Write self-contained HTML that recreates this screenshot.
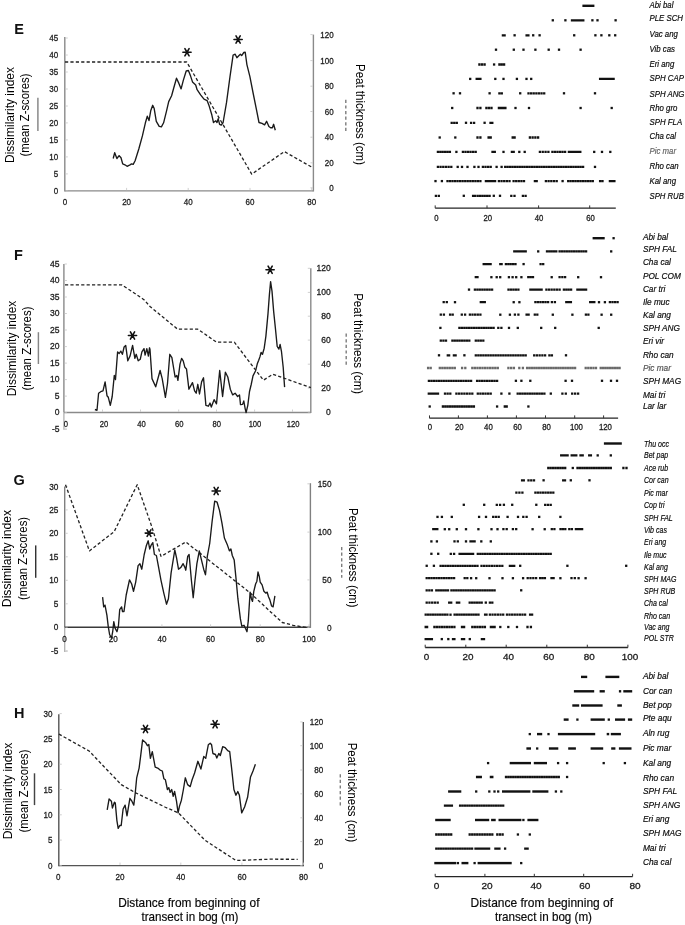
<!DOCTYPE html><html><head><meta charset="utf-8"><style>html,body{margin:0;padding:0;background:#fff;}svg{display:block;filter:blur(0.35px);}text{font-family:"Liberation Sans", sans-serif;}</style></head><body>
<svg width="685" height="925" viewBox="0 0 685 925">
<rect width="685" height="925" fill="#fff"/>
<line x1="64.8" y1="37.1" x2="64.8" y2="191.5" stroke="#8a8a8a" stroke-width="1.4"/>
<line x1="64.8" y1="190.9" x2="313.4" y2="190.9" stroke="#8a8a8a" stroke-width="1.4"/>
<line x1="313.4" y1="34.6" x2="313.4" y2="191.5" stroke="#8a8a8a" stroke-width="1.4"/>
<line x1="65.5" y1="190.9" x2="67.8" y2="190.9" stroke="#c4c4c4" stroke-width="0.8"/>
<text x="58.2" y="194.0" font-size="9.6" text-anchor="end" stroke="#1c1c1c" stroke-width="0.3" fill="#1c1c1c" textLength="4.45" lengthAdjust="spacingAndGlyphs">0</text>
<line x1="65.5" y1="173.9" x2="67.8" y2="173.9" stroke="#c4c4c4" stroke-width="0.8"/>
<text x="58.2" y="177.0" font-size="9.6" text-anchor="end" stroke="#1c1c1c" stroke-width="0.3" fill="#1c1c1c" textLength="4.45" lengthAdjust="spacingAndGlyphs">5</text>
<line x1="65.5" y1="156.9" x2="67.8" y2="156.9" stroke="#c4c4c4" stroke-width="0.8"/>
<text x="58.2" y="160.0" font-size="9.6" text-anchor="end" stroke="#1c1c1c" stroke-width="0.3" fill="#1c1c1c" textLength="8.9" lengthAdjust="spacingAndGlyphs">10</text>
<line x1="65.5" y1="139.9" x2="67.8" y2="139.9" stroke="#c4c4c4" stroke-width="0.8"/>
<text x="58.2" y="143.0" font-size="9.6" text-anchor="end" stroke="#1c1c1c" stroke-width="0.3" fill="#1c1c1c" textLength="8.9" lengthAdjust="spacingAndGlyphs">15</text>
<line x1="65.5" y1="122.9" x2="67.8" y2="122.9" stroke="#c4c4c4" stroke-width="0.8"/>
<text x="58.2" y="126.0" font-size="9.6" text-anchor="end" stroke="#1c1c1c" stroke-width="0.3" fill="#1c1c1c" textLength="8.9" lengthAdjust="spacingAndGlyphs">20</text>
<line x1="65.5" y1="106.0" x2="67.8" y2="106.0" stroke="#c4c4c4" stroke-width="0.8"/>
<text x="58.2" y="109.1" font-size="9.6" text-anchor="end" stroke="#1c1c1c" stroke-width="0.3" fill="#1c1c1c" textLength="8.9" lengthAdjust="spacingAndGlyphs">25</text>
<line x1="65.5" y1="89.0" x2="67.8" y2="89.0" stroke="#c4c4c4" stroke-width="0.8"/>
<text x="58.2" y="92.1" font-size="9.6" text-anchor="end" stroke="#1c1c1c" stroke-width="0.3" fill="#1c1c1c" textLength="8.9" lengthAdjust="spacingAndGlyphs">30</text>
<line x1="65.5" y1="72.0" x2="67.8" y2="72.0" stroke="#c4c4c4" stroke-width="0.8"/>
<text x="58.2" y="75.1" font-size="9.6" text-anchor="end" stroke="#1c1c1c" stroke-width="0.3" fill="#1c1c1c" textLength="8.9" lengthAdjust="spacingAndGlyphs">35</text>
<line x1="65.5" y1="55.0" x2="67.8" y2="55.0" stroke="#c4c4c4" stroke-width="0.8"/>
<text x="58.2" y="58.1" font-size="9.6" text-anchor="end" stroke="#1c1c1c" stroke-width="0.3" fill="#1c1c1c" textLength="8.9" lengthAdjust="spacingAndGlyphs">40</text>
<line x1="65.5" y1="38.0" x2="67.8" y2="38.0" stroke="#c4c4c4" stroke-width="0.8"/>
<text x="58.2" y="41.1" font-size="9.6" text-anchor="end" stroke="#1c1c1c" stroke-width="0.3" fill="#1c1c1c" textLength="8.9" lengthAdjust="spacingAndGlyphs">45</text>
<line x1="310.4" y1="34.6" x2="312.7" y2="34.6" stroke="#c4c4c4" stroke-width="0.8"/>
<text x="333.6" y="37.7" font-size="9.6" text-anchor="end" stroke="#1c1c1c" stroke-width="0.3" fill="#1c1c1c" textLength="13.35" lengthAdjust="spacingAndGlyphs">120</text>
<line x1="310.4" y1="60.6" x2="312.7" y2="60.6" stroke="#c4c4c4" stroke-width="0.8"/>
<text x="333.6" y="63.7" font-size="9.6" text-anchor="end" stroke="#1c1c1c" stroke-width="0.3" fill="#1c1c1c" textLength="13.35" lengthAdjust="spacingAndGlyphs">100</text>
<line x1="310.4" y1="86.2" x2="312.7" y2="86.2" stroke="#c4c4c4" stroke-width="0.8"/>
<text x="333.6" y="89.3" font-size="9.6" text-anchor="end" stroke="#1c1c1c" stroke-width="0.3" fill="#1c1c1c" textLength="8.9" lengthAdjust="spacingAndGlyphs">80</text>
<line x1="310.4" y1="111.5" x2="312.7" y2="111.5" stroke="#c4c4c4" stroke-width="0.8"/>
<text x="333.6" y="114.6" font-size="9.6" text-anchor="end" stroke="#1c1c1c" stroke-width="0.3" fill="#1c1c1c" textLength="8.9" lengthAdjust="spacingAndGlyphs">60</text>
<line x1="310.4" y1="137.2" x2="312.7" y2="137.2" stroke="#c4c4c4" stroke-width="0.8"/>
<text x="333.6" y="140.3" font-size="9.6" text-anchor="end" stroke="#1c1c1c" stroke-width="0.3" fill="#1c1c1c" textLength="8.9" lengthAdjust="spacingAndGlyphs">40</text>
<line x1="310.4" y1="162.8" x2="312.7" y2="162.8" stroke="#c4c4c4" stroke-width="0.8"/>
<text x="333.6" y="165.9" font-size="9.6" text-anchor="end" stroke="#1c1c1c" stroke-width="0.3" fill="#1c1c1c" textLength="8.9" lengthAdjust="spacingAndGlyphs">20</text>
<line x1="310.4" y1="187.8" x2="312.7" y2="187.8" stroke="#c4c4c4" stroke-width="0.8"/>
<text x="333.6" y="190.9" font-size="9.6" text-anchor="end" stroke="#1c1c1c" stroke-width="0.3" fill="#1c1c1c" textLength="4.45" lengthAdjust="spacingAndGlyphs">0</text>
<text x="65.0" y="205.1" font-size="9.6" text-anchor="middle" stroke="#1c1c1c" stroke-width="0.3" fill="#1c1c1c" textLength="4.45" lengthAdjust="spacingAndGlyphs">0</text>
<text x="126.6" y="205.1" font-size="9.6" text-anchor="middle" stroke="#1c1c1c" stroke-width="0.3" fill="#1c1c1c" textLength="8.9" lengthAdjust="spacingAndGlyphs">20</text>
<text x="188.2" y="205.1" font-size="9.6" text-anchor="middle" stroke="#1c1c1c" stroke-width="0.3" fill="#1c1c1c" textLength="8.9" lengthAdjust="spacingAndGlyphs">40</text>
<text x="250.0" y="205.1" font-size="9.6" text-anchor="middle" stroke="#1c1c1c" stroke-width="0.3" fill="#1c1c1c" textLength="8.9" lengthAdjust="spacingAndGlyphs">60</text>
<text x="311.7" y="205.1" font-size="9.6" text-anchor="middle" stroke="#1c1c1c" stroke-width="0.3" fill="#1c1c1c" textLength="8.9" lengthAdjust="spacingAndGlyphs">80</text>
<line x1="126.6" y1="187.9" x2="126.6" y2="190.2" stroke="#c4c4c4" stroke-width="0.8"/>
<line x1="188.2" y1="187.9" x2="188.2" y2="190.2" stroke="#c4c4c4" stroke-width="0.8"/>
<line x1="250.0" y1="187.9" x2="250.0" y2="190.2" stroke="#c4c4c4" stroke-width="0.8"/>
<line x1="311.7" y1="187.9" x2="311.7" y2="190.2" stroke="#c4c4c4" stroke-width="0.8"/>
<text x="14.2" y="34.0" font-size="14.5" text-anchor="start" font-weight="bold" fill="#111">E</text>
<text x="13.9" y="115.0" font-size="12" text-anchor="middle" textLength="96" lengthAdjust="spacingAndGlyphs" transform="rotate(-90 13.9 115.0)">Dissimilarity index</text>
<text x="29.0" y="115.0" font-size="12" text-anchor="middle" textLength="83" lengthAdjust="spacingAndGlyphs" transform="rotate(-90 29.0 115.0)">(mean Z-scores)</text>
<line x1="37.9" y1="97.8" x2="37.9" y2="130.9" stroke="#858585" stroke-width="1.45"/>
<text x="355.5" y="114.5" font-size="12" text-anchor="middle" textLength="101" lengthAdjust="spacingAndGlyphs" transform="rotate(90 355.5 114.5)">Peat thickness (cm)</text>
<line x1="345.8" y1="99.8" x2="345.8" y2="130.9" stroke="#7c7c7c" stroke-width="1.4" stroke-dasharray="3.2,2.4"/>
<polyline points="65.0,62.0 186.7,62.0 251.7,174.1 284.4,151.6 311.2,166.8" fill="none" stroke="#222" stroke-width="1.3" stroke-linejoin="round" stroke-dasharray="3.2,2.2"/>
<polyline points="113.2,158.5 114.7,152.7 116.9,158.5 119.1,155.6 121.0,157.8 122.7,163.9 124.9,164.8 127.1,166.3 130.0,164.8 131.5,163.9 133.2,164.4 135.1,160.7 138.8,149.0 142.4,135.9 145.4,122.8 147.3,116.2 149.0,120.6 150.8,110.4 152.7,105.3 154.1,108.2 156.3,121.3 159.2,126.4 161.4,126.9 163.6,122.8 166.5,111.1 168.7,101.6 171.6,95.8 173.8,87.7 176.5,78.2 178.9,83.4 181.1,88.9 183.3,80.4 186.2,71.0 188.4,70.5 190.6,76.1 192.5,81.9 195.7,85.0 197.1,89.7 200.6,94.9 204.0,99.2 207.1,100.6 209.2,106.1 211.8,114.8 213.5,122.5 215.8,120.8 217.0,122.5 218.2,118.6 219.6,124.3 221.3,125.1 223.1,122.5 226.5,102.7 230.0,76.7 233.1,55.1 235.2,54.2 236.9,57.7 239.0,55.6 240.4,54.2 241.7,55.6 243.8,52.5 245.2,52.1 246.9,64.6 249.9,76.7 253.3,94.0 256.8,111.3 259.0,122.5 262.0,123.4 264.6,124.8 266.6,121.3 268.9,126.5 270.6,127.7 272.4,127.7 273.6,124.3 275.3,130.3" fill="none" stroke="#1a1a1a" stroke-width="1.35" stroke-linejoin="round"/>
<path d="M182.9,52.3L191.1,52.3M184.9,48.7L189.1,55.9M184.9,55.9L189.1,48.7" stroke="#111" stroke-width="1.6" stroke-linecap="round" fill="none"/>
<path d="M234.0,39.5L242.2,39.5M236.0,35.9L240.2,43.1M236.0,43.1L240.2,35.9" stroke="#111" stroke-width="1.6" stroke-linecap="round" fill="none"/>
<line x1="63.9" y1="264.0" x2="63.9" y2="412.5" stroke="#8a8a8a" stroke-width="1.4"/>
<line x1="63.9" y1="412.5" x2="63.9" y2="429.7" stroke="#b0b0b0" stroke-width="1.3"/>
<line x1="63.9" y1="429.1" x2="66.9" y2="429.1" stroke="#c4c4c4" stroke-width="0.8"/>
<line x1="63.9" y1="412.5" x2="310.8" y2="412.5" stroke="#8a8a8a" stroke-width="1.4"/>
<line x1="310.8" y1="268.3" x2="310.8" y2="413.1" stroke="#8a8a8a" stroke-width="1.4"/>
<line x1="64.6" y1="429.1" x2="66.9" y2="429.1" stroke="#c4c4c4" stroke-width="0.8"/>
<text x="59.6" y="431.7" font-size="9.6" text-anchor="end" stroke="#1c1c1c" stroke-width="0.3" fill="#1c1c1c" textLength="7.6" lengthAdjust="spacingAndGlyphs">-5</text>
<line x1="64.6" y1="412.6" x2="66.9" y2="412.6" stroke="#c4c4c4" stroke-width="0.8"/>
<text x="59.6" y="415.2" font-size="9.6" text-anchor="end" stroke="#1c1c1c" stroke-width="0.3" fill="#1c1c1c" textLength="4.75" lengthAdjust="spacingAndGlyphs">0</text>
<line x1="64.6" y1="396.1" x2="66.9" y2="396.1" stroke="#c4c4c4" stroke-width="0.8"/>
<text x="59.6" y="398.7" font-size="9.6" text-anchor="end" stroke="#1c1c1c" stroke-width="0.3" fill="#1c1c1c" textLength="4.75" lengthAdjust="spacingAndGlyphs">5</text>
<line x1="64.6" y1="379.6" x2="66.9" y2="379.6" stroke="#c4c4c4" stroke-width="0.8"/>
<text x="59.6" y="382.2" font-size="9.6" text-anchor="end" stroke="#1c1c1c" stroke-width="0.3" fill="#1c1c1c" textLength="9.5" lengthAdjust="spacingAndGlyphs">10</text>
<line x1="64.6" y1="363.1" x2="66.9" y2="363.1" stroke="#c4c4c4" stroke-width="0.8"/>
<text x="59.6" y="365.7" font-size="9.6" text-anchor="end" stroke="#1c1c1c" stroke-width="0.3" fill="#1c1c1c" textLength="9.5" lengthAdjust="spacingAndGlyphs">15</text>
<line x1="64.6" y1="346.6" x2="66.9" y2="346.6" stroke="#c4c4c4" stroke-width="0.8"/>
<text x="59.6" y="349.2" font-size="9.6" text-anchor="end" stroke="#1c1c1c" stroke-width="0.3" fill="#1c1c1c" textLength="9.5" lengthAdjust="spacingAndGlyphs">20</text>
<line x1="64.6" y1="330.0" x2="66.9" y2="330.0" stroke="#c4c4c4" stroke-width="0.8"/>
<text x="59.6" y="332.6" font-size="9.6" text-anchor="end" stroke="#1c1c1c" stroke-width="0.3" fill="#1c1c1c" textLength="9.5" lengthAdjust="spacingAndGlyphs">25</text>
<line x1="64.6" y1="313.5" x2="66.9" y2="313.5" stroke="#c4c4c4" stroke-width="0.8"/>
<text x="59.6" y="316.1" font-size="9.6" text-anchor="end" stroke="#1c1c1c" stroke-width="0.3" fill="#1c1c1c" textLength="9.5" lengthAdjust="spacingAndGlyphs">30</text>
<line x1="64.6" y1="297.0" x2="66.9" y2="297.0" stroke="#c4c4c4" stroke-width="0.8"/>
<text x="59.6" y="299.6" font-size="9.6" text-anchor="end" stroke="#1c1c1c" stroke-width="0.3" fill="#1c1c1c" textLength="9.5" lengthAdjust="spacingAndGlyphs">35</text>
<line x1="64.6" y1="280.5" x2="66.9" y2="280.5" stroke="#c4c4c4" stroke-width="0.8"/>
<text x="59.6" y="283.1" font-size="9.6" text-anchor="end" stroke="#1c1c1c" stroke-width="0.3" fill="#1c1c1c" textLength="9.5" lengthAdjust="spacingAndGlyphs">40</text>
<line x1="64.6" y1="264.0" x2="66.9" y2="264.0" stroke="#c4c4c4" stroke-width="0.8"/>
<text x="59.6" y="266.6" font-size="9.6" text-anchor="end" stroke="#1c1c1c" stroke-width="0.3" fill="#1c1c1c" textLength="9.5" lengthAdjust="spacingAndGlyphs">45</text>
<line x1="307.8" y1="268.3" x2="310.1" y2="268.3" stroke="#c4c4c4" stroke-width="0.8"/>
<text x="330.8" y="270.9" font-size="9.6" text-anchor="end" stroke="#1c1c1c" stroke-width="0.3" fill="#1c1c1c" textLength="14.25" lengthAdjust="spacingAndGlyphs">120</text>
<line x1="307.8" y1="292.4" x2="310.1" y2="292.4" stroke="#c4c4c4" stroke-width="0.8"/>
<text x="330.8" y="295.0" font-size="9.6" text-anchor="end" stroke="#1c1c1c" stroke-width="0.3" fill="#1c1c1c" textLength="14.25" lengthAdjust="spacingAndGlyphs">100</text>
<line x1="307.8" y1="316.2" x2="310.1" y2="316.2" stroke="#c4c4c4" stroke-width="0.8"/>
<text x="330.8" y="318.8" font-size="9.6" text-anchor="end" stroke="#1c1c1c" stroke-width="0.3" fill="#1c1c1c" textLength="9.5" lengthAdjust="spacingAndGlyphs">80</text>
<line x1="307.8" y1="340.1" x2="310.1" y2="340.1" stroke="#c4c4c4" stroke-width="0.8"/>
<text x="330.8" y="342.7" font-size="9.6" text-anchor="end" stroke="#1c1c1c" stroke-width="0.3" fill="#1c1c1c" textLength="9.5" lengthAdjust="spacingAndGlyphs">60</text>
<line x1="307.8" y1="364.2" x2="310.1" y2="364.2" stroke="#c4c4c4" stroke-width="0.8"/>
<text x="330.8" y="366.8" font-size="9.6" text-anchor="end" stroke="#1c1c1c" stroke-width="0.3" fill="#1c1c1c" textLength="9.5" lengthAdjust="spacingAndGlyphs">40</text>
<line x1="307.8" y1="388.1" x2="310.1" y2="388.1" stroke="#c4c4c4" stroke-width="0.8"/>
<text x="330.8" y="390.7" font-size="9.6" text-anchor="end" stroke="#1c1c1c" stroke-width="0.3" fill="#1c1c1c" textLength="9.5" lengthAdjust="spacingAndGlyphs">20</text>
<line x1="307.8" y1="412.2" x2="310.1" y2="412.2" stroke="#c4c4c4" stroke-width="0.8"/>
<text x="330.8" y="414.8" font-size="9.6" text-anchor="end" stroke="#1c1c1c" stroke-width="0.3" fill="#1c1c1c" textLength="4.75" lengthAdjust="spacingAndGlyphs">0</text>
<text x="65.8" y="426.9" font-size="9.6" text-anchor="middle" stroke="#1c1c1c" stroke-width="0.3" fill="#1c1c1c" textLength="4.25" lengthAdjust="spacingAndGlyphs">0</text>
<text x="104.0" y="426.9" font-size="9.6" text-anchor="middle" stroke="#1c1c1c" stroke-width="0.3" fill="#1c1c1c" textLength="8.5" lengthAdjust="spacingAndGlyphs">20</text>
<text x="141.4" y="426.9" font-size="9.6" text-anchor="middle" stroke="#1c1c1c" stroke-width="0.3" fill="#1c1c1c" textLength="8.5" lengthAdjust="spacingAndGlyphs">40</text>
<text x="179.3" y="426.9" font-size="9.6" text-anchor="middle" stroke="#1c1c1c" stroke-width="0.3" fill="#1c1c1c" textLength="8.5" lengthAdjust="spacingAndGlyphs">60</text>
<text x="216.7" y="426.9" font-size="9.6" text-anchor="middle" stroke="#1c1c1c" stroke-width="0.3" fill="#1c1c1c" textLength="8.5" lengthAdjust="spacingAndGlyphs">80</text>
<text x="255.0" y="426.9" font-size="9.6" text-anchor="middle" stroke="#1c1c1c" stroke-width="0.3" fill="#1c1c1c" textLength="12.75" lengthAdjust="spacingAndGlyphs">100</text>
<text x="293.2" y="426.9" font-size="9.6" text-anchor="middle" stroke="#1c1c1c" stroke-width="0.3" fill="#1c1c1c" textLength="12.75" lengthAdjust="spacingAndGlyphs">120</text>
<line x1="102.5" y1="409.5" x2="102.5" y2="411.8" stroke="#c4c4c4" stroke-width="0.8"/>
<line x1="140.5" y1="409.5" x2="140.5" y2="411.8" stroke="#c4c4c4" stroke-width="0.8"/>
<line x1="178.7" y1="409.5" x2="178.7" y2="411.8" stroke="#c4c4c4" stroke-width="0.8"/>
<line x1="216.5" y1="409.5" x2="216.5" y2="411.8" stroke="#c4c4c4" stroke-width="0.8"/>
<line x1="254.6" y1="409.5" x2="254.6" y2="411.8" stroke="#c4c4c4" stroke-width="0.8"/>
<line x1="292.5" y1="409.5" x2="292.5" y2="411.8" stroke="#c4c4c4" stroke-width="0.8"/>
<text x="13.9" y="259.5" font-size="14.5" text-anchor="start" font-weight="bold" fill="#111">F</text>
<text x="16.0" y="348.5" font-size="12" text-anchor="middle" textLength="95.5" lengthAdjust="spacingAndGlyphs" transform="rotate(-90 16.0 348.5)">Dissimilarity index</text>
<text x="31.0" y="348.5" font-size="12" text-anchor="middle" textLength="84" lengthAdjust="spacingAndGlyphs" transform="rotate(-90 31.0 348.5)">(mean Z-scores)</text>
<line x1="38.4" y1="332.2" x2="38.4" y2="364.0" stroke="#858585" stroke-width="1.45"/>
<text x="353.6" y="343.7" font-size="12" text-anchor="middle" textLength="101" lengthAdjust="spacingAndGlyphs" transform="rotate(90 353.6 343.7)">Peat thickness (cm)</text>
<line x1="346.2" y1="333.6" x2="346.2" y2="365.1" stroke="#7c7c7c" stroke-width="1.4" stroke-dasharray="3.2,2.4"/>
<polyline points="65.0,284.8 121.6,284.8 136.2,294.3 144.3,300.0 150.0,306.5 177.6,329.2 197.8,329.2 216.5,342.2 234.3,342.2 263.4,380.2 272.9,374.2 285.0,378.5 310.9,387.7" fill="none" stroke="#222" stroke-width="1.3" stroke-linejoin="round" stroke-dasharray="3.2,2.2"/>
<polyline points="94.9,409.5 97.0,410.3 98.6,393.2 101.4,391.3 103.0,390.8 105.1,381.9 107.0,395.7 108.3,397.3 110.3,405.4 112.2,396.5 114.3,375.4 115.5,379.5 117.6,351.9 119.2,353.5 120.8,351.1 122.4,354.3 124.1,347.0 125.7,345.4 127.8,360.8 130.1,355.9 132.6,345.4 134.9,358.4 136.2,354.3 138.2,360.8 140.3,359.2 141.9,351.9 144.0,348.6 145.1,355.1 146.8,348.6 148.4,356.0 149.5,347.8 150.0,349.5 152.0,378.6 155.7,386.8 160.1,370.5 162.2,378.6 165.4,397.3 167.5,383.5 169.8,354.3 171.9,357.6 175.1,377.0 176.8,375.4 177.9,380.3 180.0,364.1 181.6,358.4 183.2,360.8 184.9,367.3 186.5,368.9 188.9,389.2 192.5,382.7 194.6,390.8 196.2,393.2 197.8,384.3 199.5,394.0 201.6,381.9 203.5,377.8 205.9,405.4 208.4,406.2 210.0,403.0 211.3,407.0 214.1,399.7 216.5,403.8 219.7,370.5 222.6,396.5 225.4,372.2 227.8,377.0 230.3,389.2 232.7,394.9 235.1,393.2 237.6,396.5 239.5,394.9 240.5,404.6 242.6,404.4 243.8,401.0 245.2,408.8 246.1,412.6 247.8,405.3 249.5,391.5 251.2,384.5 253.0,375.9 255.6,370.7 257.3,363.8 258.7,360.3 259.9,356.9 261.1,352.5 262.5,354.3 264.2,348.2 265.9,336.1 268.0,313.6 269.4,294.6 270.6,281.6 272.0,291.1 273.7,311.9 275.5,329.2 277.2,346.5 278.9,349.1 280.1,344.4 281.5,351.7 283.2,367.2 284.6,387.1" fill="none" stroke="#1a1a1a" stroke-width="1.35" stroke-linejoin="round"/>
<path d="M128.4,335.5L136.6,335.5M130.4,331.9L134.6,339.1M130.4,339.1L134.6,331.9" stroke="#111" stroke-width="1.6" stroke-linecap="round" fill="none"/>
<path d="M266.0,269.8L274.2,269.8M268.1,266.2L272.2,273.4M268.1,273.4L272.2,266.2" stroke="#111" stroke-width="1.6" stroke-linecap="round" fill="none"/>
<line x1="64.7" y1="486.6" x2="64.7" y2="627.3" stroke="#808080" stroke-width="1.4"/>
<line x1="64.7" y1="627.3" x2="64.7" y2="652.0" stroke="#b0b0b0" stroke-width="1.3"/>
<line x1="64.7" y1="651.4" x2="67.7" y2="651.4" stroke="#c4c4c4" stroke-width="0.8"/>
<line x1="64.7" y1="627.3" x2="310.4" y2="627.3" stroke="#3a3a3a" stroke-width="1.4"/>
<line x1="310.4" y1="483.2" x2="310.4" y2="627.9" stroke="#808080" stroke-width="1.4"/>
<line x1="65.4" y1="650.7" x2="67.7" y2="650.7" stroke="#c4c4c4" stroke-width="0.8"/>
<text x="58.4" y="653.8" font-size="9.6" text-anchor="end" stroke="#1c1c1c" stroke-width="0.3" fill="#1c1c1c" textLength="7.36" lengthAdjust="spacingAndGlyphs">-5</text>
<line x1="65.4" y1="627.2" x2="67.7" y2="627.2" stroke="#c4c4c4" stroke-width="0.8"/>
<text x="58.4" y="630.3" font-size="9.6" text-anchor="end" stroke="#1c1c1c" stroke-width="0.3" fill="#1c1c1c" textLength="4.6" lengthAdjust="spacingAndGlyphs">0</text>
<line x1="65.4" y1="603.8" x2="67.7" y2="603.8" stroke="#c4c4c4" stroke-width="0.8"/>
<text x="58.4" y="606.9" font-size="9.6" text-anchor="end" stroke="#1c1c1c" stroke-width="0.3" fill="#1c1c1c" textLength="4.6" lengthAdjust="spacingAndGlyphs">5</text>
<line x1="65.4" y1="580.3" x2="67.7" y2="580.3" stroke="#c4c4c4" stroke-width="0.8"/>
<text x="58.4" y="583.4" font-size="9.6" text-anchor="end" stroke="#1c1c1c" stroke-width="0.3" fill="#1c1c1c" textLength="9.2" lengthAdjust="spacingAndGlyphs">10</text>
<line x1="65.4" y1="556.8" x2="67.7" y2="556.8" stroke="#c4c4c4" stroke-width="0.8"/>
<text x="58.4" y="559.9" font-size="9.6" text-anchor="end" stroke="#1c1c1c" stroke-width="0.3" fill="#1c1c1c" textLength="9.2" lengthAdjust="spacingAndGlyphs">15</text>
<line x1="65.4" y1="533.3" x2="67.7" y2="533.3" stroke="#c4c4c4" stroke-width="0.8"/>
<text x="58.4" y="536.4" font-size="9.6" text-anchor="end" stroke="#1c1c1c" stroke-width="0.3" fill="#1c1c1c" textLength="9.2" lengthAdjust="spacingAndGlyphs">20</text>
<line x1="65.4" y1="509.9" x2="67.7" y2="509.9" stroke="#c4c4c4" stroke-width="0.8"/>
<text x="58.4" y="513.0" font-size="9.6" text-anchor="end" stroke="#1c1c1c" stroke-width="0.3" fill="#1c1c1c" textLength="9.2" lengthAdjust="spacingAndGlyphs">25</text>
<line x1="65.4" y1="486.4" x2="67.7" y2="486.4" stroke="#c4c4c4" stroke-width="0.8"/>
<text x="58.4" y="489.5" font-size="9.6" text-anchor="end" stroke="#1c1c1c" stroke-width="0.3" fill="#1c1c1c" textLength="9.2" lengthAdjust="spacingAndGlyphs">30</text>
<line x1="307.4" y1="483.8" x2="309.7" y2="483.8" stroke="#c4c4c4" stroke-width="0.8"/>
<text x="331.5" y="486.9" font-size="9.6" text-anchor="end" stroke="#1c1c1c" stroke-width="0.3" fill="#1c1c1c" textLength="13.8" lengthAdjust="spacingAndGlyphs">150</text>
<line x1="307.4" y1="532.1" x2="309.7" y2="532.1" stroke="#c4c4c4" stroke-width="0.8"/>
<text x="331.5" y="535.2" font-size="9.6" text-anchor="end" stroke="#1c1c1c" stroke-width="0.3" fill="#1c1c1c" textLength="13.8" lengthAdjust="spacingAndGlyphs">100</text>
<line x1="307.4" y1="579.9" x2="309.7" y2="579.9" stroke="#c4c4c4" stroke-width="0.8"/>
<text x="331.5" y="583.0" font-size="9.6" text-anchor="end" stroke="#1c1c1c" stroke-width="0.3" fill="#1c1c1c" textLength="9.2" lengthAdjust="spacingAndGlyphs">50</text>
<line x1="307.4" y1="627.5" x2="309.7" y2="627.5" stroke="#c4c4c4" stroke-width="0.8"/>
<text x="331.5" y="630.6" font-size="9.6" text-anchor="end" stroke="#1c1c1c" stroke-width="0.3" fill="#1c1c1c" textLength="4.6" lengthAdjust="spacingAndGlyphs">0</text>
<text x="64.6" y="641.6" font-size="9.6" text-anchor="middle" stroke="#1c1c1c" stroke-width="0.3" fill="#1c1c1c" textLength="4.5" lengthAdjust="spacingAndGlyphs">0</text>
<text x="113.2" y="641.6" font-size="9.6" text-anchor="middle" stroke="#1c1c1c" stroke-width="0.3" fill="#1c1c1c" textLength="9.0" lengthAdjust="spacingAndGlyphs">20</text>
<text x="161.9" y="641.6" font-size="9.6" text-anchor="middle" stroke="#1c1c1c" stroke-width="0.3" fill="#1c1c1c" textLength="9.0" lengthAdjust="spacingAndGlyphs">40</text>
<text x="210.6" y="641.6" font-size="9.6" text-anchor="middle" stroke="#1c1c1c" stroke-width="0.3" fill="#1c1c1c" textLength="9.0" lengthAdjust="spacingAndGlyphs">60</text>
<text x="260.2" y="641.6" font-size="9.6" text-anchor="middle" stroke="#1c1c1c" stroke-width="0.3" fill="#1c1c1c" textLength="9.0" lengthAdjust="spacingAndGlyphs">80</text>
<text x="309.0" y="641.6" font-size="9.6" text-anchor="middle" stroke="#1c1c1c" stroke-width="0.3" fill="#1c1c1c" textLength="13.5" lengthAdjust="spacingAndGlyphs">100</text>
<line x1="113.2" y1="624.3" x2="113.2" y2="626.6" stroke="#c4c4c4" stroke-width="0.8"/>
<line x1="161.9" y1="624.3" x2="161.9" y2="626.6" stroke="#c4c4c4" stroke-width="0.8"/>
<line x1="210.6" y1="624.3" x2="210.6" y2="626.6" stroke="#c4c4c4" stroke-width="0.8"/>
<line x1="260.2" y1="624.3" x2="260.2" y2="626.6" stroke="#c4c4c4" stroke-width="0.8"/>
<line x1="309.0" y1="624.3" x2="309.0" y2="626.6" stroke="#c4c4c4" stroke-width="0.8"/>
<text x="13.6" y="484.8" font-size="14.5" text-anchor="start" font-weight="bold" fill="#111">G</text>
<text x="10.8" y="558.5" font-size="12" text-anchor="middle" textLength="97.3" lengthAdjust="spacingAndGlyphs" transform="rotate(-90 10.8 558.5)">Dissimilarity index</text>
<text x="26.6" y="558.5" font-size="12" text-anchor="middle" textLength="83.2" lengthAdjust="spacingAndGlyphs" transform="rotate(-90 26.6 558.5)">(mean Z-scores)</text>
<line x1="35.7" y1="545.4" x2="35.7" y2="577.8" stroke="#333" stroke-width="1.45"/>
<text x="349.3" y="557.8" font-size="12" text-anchor="middle" textLength="99.6" lengthAdjust="spacingAndGlyphs" transform="rotate(90 349.3 557.8)">Peat thickness (cm)</text>
<line x1="341.7" y1="547.0" x2="341.7" y2="577.8" stroke="#7c7c7c" stroke-width="1.4" stroke-dasharray="3.2,2.4"/>
<polyline points="65.5,484.7 89.4,550.9 114.2,531.6 137.2,484.7 151.9,527.0 161.0,556.4 185.8,542.0 250.1,592.8 258.4,600.5 271.2,612.4 282.3,622.5 293.3,625.3 306.2,627.5" fill="none" stroke="#222" stroke-width="1.3" stroke-linejoin="round" stroke-dasharray="3.2,2.2"/>
<polyline points="102.6,597.2 103.7,606.9 105.0,605.1 106.9,615.2 108.2,626.2 109.6,634.5 111.5,638.2 112.7,631.7 113.8,621.6 115.1,628.1 117.0,631.7 118.4,626.2 119.7,609.7 121.6,606.9 122.5,611.5 124.0,611.5 126.2,595.0 129.5,579.9 131.7,584.0 133.5,591.3 135.7,582.1 138.1,565.6 139.9,563.7 141.8,569.2 144.2,554.5 146.4,545.4 148.2,540.8 149.7,549.0 151.0,545.4 152.8,542.6 154.4,554.5 156.4,555.5 158.3,565.6 161.0,580.3 163.8,593.1 166.5,604.2 168.4,598.7 171.1,572.9 174.8,550.0 176.6,558.2 178.5,569.2 180.9,567.4 183.1,563.7 184.9,567.4 185.8,570.2 187.7,556.4 189.1,554.5 191.4,580.3 193.2,597.7 195.0,580.3 196.9,563.7 199.3,550.9 201.5,560.1 203.7,569.2 205.5,574.8 207.3,556.4 209.7,543.5 212.1,521.5 214.7,501.2 217.1,502.2 219.5,510.4 222.0,523.3 224.4,538.0 227.2,544.4 229.4,550.9 230.9,549.0 232.3,555.5 234.2,560.1 236.0,578.4 237.9,598.7 240.4,618.9 241.8,626.2 244.0,625.3 247.0,631.7 248.3,620.7 250.1,592.2 251.4,598.7 252.5,601.4 253.8,591.3 255.6,584.0 256.9,581.2 258.0,572.0 259.3,576.6 260.2,582.1 262.1,584.9 263.9,591.3 265.7,593.1 267.2,592.2 268.5,596.8 269.8,599.6 271.6,606.0 273.1,606.9 274.9,595.9" fill="none" stroke="#1a1a1a" stroke-width="1.35" stroke-linejoin="round"/>
<path d="M145.2,533.1L152.8,533.1M147.1,529.8L150.9,536.4M147.1,536.4L150.9,529.8" stroke="#111" stroke-width="1.6" stroke-linecap="round" fill="none"/>
<path d="M212.1,491.0L220.3,491.0M214.1,487.4L218.2,494.6M214.1,494.6L218.2,487.4" stroke="#111" stroke-width="1.6" stroke-linecap="round" fill="none"/>
<line x1="58.8" y1="714.3" x2="58.8" y2="866.2" stroke="#555" stroke-width="1.4"/>
<line x1="58.8" y1="865.6" x2="303.3" y2="865.6" stroke="#555" stroke-width="1.4"/>
<line x1="303.3" y1="721.9" x2="303.3" y2="866.2" stroke="#555" stroke-width="1.4"/>
<line x1="59.5" y1="865.4" x2="61.8" y2="865.4" stroke="#c4c4c4" stroke-width="0.8"/>
<text x="52.4" y="868.5" font-size="9.6" text-anchor="end" stroke="#1c1c1c" stroke-width="0.3" fill="#1c1c1c" textLength="4.5" lengthAdjust="spacingAndGlyphs">0</text>
<line x1="59.5" y1="840.1" x2="61.8" y2="840.1" stroke="#c4c4c4" stroke-width="0.8"/>
<text x="52.4" y="843.2" font-size="9.6" text-anchor="end" stroke="#1c1c1c" stroke-width="0.3" fill="#1c1c1c" textLength="4.5" lengthAdjust="spacingAndGlyphs">5</text>
<line x1="59.5" y1="814.8" x2="61.8" y2="814.8" stroke="#c4c4c4" stroke-width="0.8"/>
<text x="52.4" y="817.9" font-size="9.6" text-anchor="end" stroke="#1c1c1c" stroke-width="0.3" fill="#1c1c1c" textLength="9.0" lengthAdjust="spacingAndGlyphs">10</text>
<line x1="59.5" y1="789.5" x2="61.8" y2="789.5" stroke="#c4c4c4" stroke-width="0.8"/>
<text x="52.4" y="792.6" font-size="9.6" text-anchor="end" stroke="#1c1c1c" stroke-width="0.3" fill="#1c1c1c" textLength="9.0" lengthAdjust="spacingAndGlyphs">15</text>
<line x1="59.5" y1="764.2" x2="61.8" y2="764.2" stroke="#c4c4c4" stroke-width="0.8"/>
<text x="52.4" y="767.3" font-size="9.6" text-anchor="end" stroke="#1c1c1c" stroke-width="0.3" fill="#1c1c1c" textLength="9.0" lengthAdjust="spacingAndGlyphs">20</text>
<line x1="59.5" y1="738.9" x2="61.8" y2="738.9" stroke="#c4c4c4" stroke-width="0.8"/>
<text x="52.4" y="742.0" font-size="9.6" text-anchor="end" stroke="#1c1c1c" stroke-width="0.3" fill="#1c1c1c" textLength="9.0" lengthAdjust="spacingAndGlyphs">25</text>
<line x1="59.5" y1="713.6" x2="61.8" y2="713.6" stroke="#c4c4c4" stroke-width="0.8"/>
<text x="52.4" y="716.7" font-size="9.6" text-anchor="end" stroke="#1c1c1c" stroke-width="0.3" fill="#1c1c1c" textLength="9.0" lengthAdjust="spacingAndGlyphs">30</text>
<line x1="300.3" y1="721.9" x2="302.6" y2="721.9" stroke="#c4c4c4" stroke-width="0.8"/>
<text x="323.2" y="725.0" font-size="9.6" text-anchor="end" stroke="#1c1c1c" stroke-width="0.3" fill="#1c1c1c" textLength="13.5" lengthAdjust="spacingAndGlyphs">120</text>
<line x1="300.3" y1="745.7" x2="302.6" y2="745.7" stroke="#c4c4c4" stroke-width="0.8"/>
<text x="323.2" y="748.8" font-size="9.6" text-anchor="end" stroke="#1c1c1c" stroke-width="0.3" fill="#1c1c1c" textLength="13.5" lengthAdjust="spacingAndGlyphs">100</text>
<line x1="300.3" y1="770.0" x2="302.6" y2="770.0" stroke="#c4c4c4" stroke-width="0.8"/>
<text x="323.2" y="773.1" font-size="9.6" text-anchor="end" stroke="#1c1c1c" stroke-width="0.3" fill="#1c1c1c" textLength="9.0" lengthAdjust="spacingAndGlyphs">80</text>
<line x1="300.3" y1="793.8" x2="302.6" y2="793.8" stroke="#c4c4c4" stroke-width="0.8"/>
<text x="323.2" y="796.9" font-size="9.6" text-anchor="end" stroke="#1c1c1c" stroke-width="0.3" fill="#1c1c1c" textLength="9.0" lengthAdjust="spacingAndGlyphs">60</text>
<line x1="300.3" y1="817.8" x2="302.6" y2="817.8" stroke="#c4c4c4" stroke-width="0.8"/>
<text x="323.2" y="820.9" font-size="9.6" text-anchor="end" stroke="#1c1c1c" stroke-width="0.3" fill="#1c1c1c" textLength="9.0" lengthAdjust="spacingAndGlyphs">40</text>
<line x1="300.3" y1="841.6" x2="302.6" y2="841.6" stroke="#c4c4c4" stroke-width="0.8"/>
<text x="323.2" y="844.7" font-size="9.6" text-anchor="end" stroke="#1c1c1c" stroke-width="0.3" fill="#1c1c1c" textLength="9.0" lengthAdjust="spacingAndGlyphs">20</text>
<line x1="300.3" y1="865.4" x2="302.6" y2="865.4" stroke="#c4c4c4" stroke-width="0.8"/>
<text x="323.2" y="868.5" font-size="9.6" text-anchor="end" stroke="#1c1c1c" stroke-width="0.3" fill="#1c1c1c" textLength="4.5" lengthAdjust="spacingAndGlyphs">0</text>
<text x="58.2" y="880.0" font-size="9.6" text-anchor="middle" stroke="#1c1c1c" stroke-width="0.3" fill="#1c1c1c" textLength="4.5" lengthAdjust="spacingAndGlyphs">0</text>
<text x="120.0" y="880.0" font-size="9.6" text-anchor="middle" stroke="#1c1c1c" stroke-width="0.3" fill="#1c1c1c" textLength="9.0" lengthAdjust="spacingAndGlyphs">20</text>
<text x="180.8" y="880.0" font-size="9.6" text-anchor="middle" stroke="#1c1c1c" stroke-width="0.3" fill="#1c1c1c" textLength="9.0" lengthAdjust="spacingAndGlyphs">40</text>
<text x="241.9" y="880.0" font-size="9.6" text-anchor="middle" stroke="#1c1c1c" stroke-width="0.3" fill="#1c1c1c" textLength="9.0" lengthAdjust="spacingAndGlyphs">60</text>
<text x="303.5" y="880.0" font-size="9.6" text-anchor="middle" stroke="#1c1c1c" stroke-width="0.3" fill="#1c1c1c" textLength="9.0" lengthAdjust="spacingAndGlyphs">80</text>
<line x1="120.0" y1="862.6" x2="120.0" y2="864.9" stroke="#c4c4c4" stroke-width="0.8"/>
<line x1="180.8" y1="862.6" x2="180.8" y2="864.9" stroke="#c4c4c4" stroke-width="0.8"/>
<line x1="241.9" y1="862.6" x2="241.9" y2="864.9" stroke="#c4c4c4" stroke-width="0.8"/>
<line x1="303.5" y1="862.6" x2="303.5" y2="864.9" stroke="#c4c4c4" stroke-width="0.8"/>
<text x="13.9" y="717.8" font-size="14.5" text-anchor="start" font-weight="bold" fill="#111">H</text>
<text x="12.0" y="791.0" font-size="12" text-anchor="middle" textLength="96.5" lengthAdjust="spacingAndGlyphs" transform="rotate(-90 12.0 791.0)">Dissimilarity index</text>
<text x="28.0" y="791.0" font-size="12" text-anchor="middle" textLength="82.8" lengthAdjust="spacingAndGlyphs" transform="rotate(-90 28.0 791.0)">(mean Z-scores)</text>
<line x1="34.5" y1="773.3" x2="34.5" y2="805.1" stroke="#444" stroke-width="1.45"/>
<text x="348.0" y="792.5" font-size="12" text-anchor="middle" textLength="99.7" lengthAdjust="spacingAndGlyphs" transform="rotate(90 348.0 792.5)">Peat thickness (cm)</text>
<line x1="340.3" y1="774.2" x2="340.3" y2="805.8" stroke="#7c7c7c" stroke-width="1.4" stroke-dasharray="3.2,2.4"/>
<polyline points="58.9,734.1 89.1,751.0 103.6,766.2 121.2,784.6 134.8,792.4 164.9,807.0 178.5,812.9 204.8,840.1 235.9,860.5 270.0,859.2 297.7,859.3" fill="none" stroke="#222" stroke-width="1.3" stroke-linejoin="round" stroke-dasharray="3.2,2.2"/>
<polyline points="107.2,809.9 109.1,798.9 111.4,801.2 112.4,808.0 114.4,802.2 115.3,803.1 116.9,820.6 118.2,828.4 119.8,825.5 121.2,825.5 123.1,809.0 125.1,805.1 127.0,815.8 129.9,798.3 131.9,801.2 133.8,805.1 135.2,793.4 136.7,777.8 139.1,768.1 140.6,756.4 142.6,739.9 145.5,742.4 147.4,745.7 148.8,744.4 150.4,758.4 152.3,751.6 155.2,767.1 157.7,768.1 160.1,770.1 162.3,771.0 163.9,778.8 165.4,779.8 167.4,789.5 168.8,787.6 170.1,792.4 171.7,789.5 173.2,796.3 174.6,791.5 176.5,801.2 178.1,812.9 179.5,806.1 181.4,800.2 183.4,789.5 185.3,777.8 187.6,784.6 190.2,786.6 192.1,779.8 194.6,773.0 197.9,761.3 200.9,769.1 203.8,756.4 205.7,758.4 208.3,744.8 210.2,743.2 211.6,744.8 212.9,753.5 215.5,754.5 216.8,758.0 218.8,753.5 220.3,755.5 222.7,746.7 225.2,747.7 227.7,750.6 229.7,751.6 231.6,768.1 233.9,789.5 235.9,795.3 237.8,791.5 239.4,795.3 241.7,812.9 244.6,807.0 247.6,797.3 250.5,776.9 253.0,771.0 255.4,764.2" fill="none" stroke="#1a1a1a" stroke-width="1.35" stroke-linejoin="round"/>
<path d="M141.4,729.0L149.6,729.0M143.4,725.4L147.6,732.6M143.4,732.6L147.6,725.4" stroke="#111" stroke-width="1.6" stroke-linecap="round" fill="none"/>
<path d="M211.0,724.2L219.2,724.2M213.0,720.6L217.2,727.8M213.0,727.8L217.2,720.6" stroke="#111" stroke-width="1.6" stroke-linecap="round" fill="none"/>
<text x="188.8" y="906.7" font-size="12.8" text-anchor="middle" stroke="#222" stroke-width="0.2" textLength="141.3" lengthAdjust="spacingAndGlyphs">Distance from beginning of</text>
<text x="190.0" y="920.7" font-size="12.8" text-anchor="middle" stroke="#222" stroke-width="0.2" textLength="97.0" lengthAdjust="spacingAndGlyphs">transect in bog (m)</text>
<text x="541.8" y="906.7" font-size="12.8" text-anchor="middle" stroke="#222" stroke-width="0.2" textLength="142.5" lengthAdjust="spacingAndGlyphs">Distance from beginning of</text>
<text x="543.5" y="920.7" font-size="12.8" text-anchor="middle" stroke="#222" stroke-width="0.2" textLength="97.0" lengthAdjust="spacingAndGlyphs">transect in bog (m)</text>
<rect x="582.4" y="4.6" width="12.0" height="2.4" fill="#111"/>
<text x="649.5" y="7.9" font-size="9.0" text-anchor="start" stroke="#222" stroke-width="0.2" font-style="italic" textLength="23.94" lengthAdjust="spacingAndGlyphs">Abi bal</text>
<path d="M551.65 19.15h2.3v2.3h-2.3z" fill="#111"/>
<path d="M564.25 19.15h2.3v2.3h-2.3z" fill="#111"/>
<path d="M570.85 19.15h2.3v2.3h-2.3zM573.11 19.15h2.3v2.3h-2.3zM575.37 19.15h2.3v2.3h-2.3zM577.63 19.15h2.3v2.3h-2.3zM579.89 19.15h2.3v2.3h-2.3zM582.15 19.15h2.3v2.3h-2.3z" fill="#111"/>
<path d="M591.25 19.15h2.3v2.3h-2.3z" fill="#111"/>
<path d="M596.35 19.15h2.3v2.3h-2.3z" fill="#111"/>
<path d="M614.45 19.15h2.3v2.3h-2.3z" fill="#111"/>
<text x="649.5" y="21.1" font-size="9.0" text-anchor="start" stroke="#222" stroke-width="0.2" font-style="italic" textLength="33.51" lengthAdjust="spacingAndGlyphs">PLE SCH</text>
<path d="M501.75 34.15h2.3v2.3h-2.3zM503.45 34.15h2.3v2.3h-2.3z" fill="#111"/>
<path d="M513.45 34.15h2.3v2.3h-2.3z" fill="#111"/>
<path d="M525.45 34.15h2.3v2.3h-2.3zM527.25 34.15h2.3v2.3h-2.3z" fill="#111"/>
<path d="M532.05 34.15h2.3v2.3h-2.3z" fill="#111"/>
<path d="M538.45 34.15h2.3v2.3h-2.3z" fill="#111"/>
<path d="M573.05 34.15h2.3v2.3h-2.3z" fill="#111"/>
<path d="M594.25 34.15h2.3v2.3h-2.3z" fill="#111"/>
<path d="M600.25 34.15h2.3v2.3h-2.3z" fill="#111"/>
<path d="M608.15 34.15h2.3v2.3h-2.3z" fill="#111"/>
<path d="M614.05 34.15h2.3v2.3h-2.3z" fill="#111"/>
<text x="649.5" y="37.2" font-size="9.0" text-anchor="start" stroke="#222" stroke-width="0.2" font-style="italic" textLength="28.44" lengthAdjust="spacingAndGlyphs">Vac ang</text>
<path d="M494.85 48.55h2.3v2.3h-2.3z" fill="#111"/>
<path d="M512.65 48.55h2.3v2.3h-2.3z" fill="#111"/>
<path d="M522.35 48.55h2.3v2.3h-2.3z" fill="#111"/>
<path d="M534.25 48.55h2.3v2.3h-2.3z" fill="#111"/>
<path d="M547.55 48.55h2.3v2.3h-2.3z" fill="#111"/>
<path d="M557.85 48.55h2.3v2.3h-2.3z" fill="#111"/>
<path d="M579.45 48.55h2.3v2.3h-2.3z" fill="#111"/>
<text x="649.5" y="52.1" font-size="9.0" text-anchor="start" stroke="#222" stroke-width="0.2" font-style="italic" textLength="25.53" lengthAdjust="spacingAndGlyphs">Vib cas</text>
<path d="M478.25 63.35h2.3v2.3h-2.3zM480.85 63.35h2.3v2.3h-2.3zM483.45 63.35h2.3v2.3h-2.3z" fill="#111"/>
<path d="M492.95 63.35h2.3v2.3h-2.3z" fill="#111"/>
<path d="M498.25 63.35h2.3v2.3h-2.3zM500.60 63.35h2.3v2.3h-2.3zM502.95 63.35h2.3v2.3h-2.3z" fill="#111"/>
<text x="649.5" y="67.0" font-size="9.0" text-anchor="start" stroke="#222" stroke-width="0.2" font-style="italic" textLength="24.81" lengthAdjust="spacingAndGlyphs">Eri ang</text>
<path d="M469.05 77.75h2.3v2.3h-2.3z" fill="#111"/>
<path d="M475.55 77.75h2.3v2.3h-2.3zM477.40 77.75h2.3v2.3h-2.3zM479.25 77.75h2.3v2.3h-2.3z" fill="#111"/>
<path d="M494.15 77.75h2.3v2.3h-2.3z" fill="#111"/>
<path d="M502.35 77.75h2.3v2.3h-2.3z" fill="#111"/>
<path d="M515.75 77.75h2.3v2.3h-2.3z" fill="#111"/>
<path d="M525.35 77.75h2.3v2.3h-2.3z" fill="#111"/>
<path d="M530.05 77.75h2.3v2.3h-2.3z" fill="#111"/>
<path d="M598.95 77.75h2.3v2.3h-2.3zM601.20 77.75h2.3v2.3h-2.3zM603.45 77.75h2.3v2.3h-2.3zM605.70 77.75h2.3v2.3h-2.3zM607.95 77.75h2.3v2.3h-2.3zM610.20 77.75h2.3v2.3h-2.3zM612.45 77.75h2.3v2.3h-2.3z" fill="#111"/>
<text x="649.5" y="81.3" font-size="9.0" text-anchor="start" stroke="#222" stroke-width="0.2" font-style="italic" textLength="34.38" lengthAdjust="spacingAndGlyphs">SPH CAP</text>
<path d="M452.45 92.15h2.3v2.3h-2.3z" fill="#111"/>
<path d="M458.85 92.15h2.3v2.3h-2.3z" fill="#111"/>
<path d="M488.45 92.15h2.3v2.3h-2.3z" fill="#111"/>
<path d="M498.25 92.15h2.3v2.3h-2.3zM500.65 92.15h2.3v2.3h-2.3z" fill="#111"/>
<path d="M519.05 92.15h2.3v2.3h-2.3z" fill="#111"/>
<path d="M527.35 92.15h2.3v2.3h-2.3zM529.97 92.15h2.3v2.3h-2.3zM532.58 92.15h2.3v2.3h-2.3zM535.20 92.15h2.3v2.3h-2.3zM537.82 92.15h2.3v2.3h-2.3zM540.43 92.15h2.3v2.3h-2.3zM543.05 92.15h2.3v2.3h-2.3z" fill="#111"/>
<path d="M562.85 92.15h2.3v2.3h-2.3z" fill="#111"/>
<path d="M593.85 92.15h2.3v2.3h-2.3z" fill="#111"/>
<text x="649.5" y="96.6" font-size="9.0" text-anchor="start" stroke="#222" stroke-width="0.2" font-style="italic" textLength="34.95" lengthAdjust="spacingAndGlyphs">SPH ANG</text>
<path d="M451.05 106.85h2.3v2.3h-2.3z" fill="#111"/>
<path d="M476.35 106.85h2.3v2.3h-2.3zM479.25 106.85h2.3v2.3h-2.3z" fill="#111"/>
<path d="M485.25 106.85h2.3v2.3h-2.3zM487.80 106.85h2.3v2.3h-2.3zM490.35 106.85h2.3v2.3h-2.3z" fill="#111"/>
<path d="M497.75 106.85h2.3v2.3h-2.3zM499.92 106.85h2.3v2.3h-2.3zM502.08 106.85h2.3v2.3h-2.3zM504.25 106.85h2.3v2.3h-2.3z" fill="#111"/>
<path d="M514.35 106.85h2.3v2.3h-2.3z" fill="#111"/>
<path d="M527.85 106.85h2.3v2.3h-2.3z" fill="#111"/>
<path d="M579.45 106.85h2.3v2.3h-2.3z" fill="#111"/>
<path d="M610.55 106.85h2.3v2.3h-2.3z" fill="#111"/>
<text x="649.5" y="110.8" font-size="9.0" text-anchor="start" stroke="#222" stroke-width="0.2" font-style="italic" textLength="27.85" lengthAdjust="spacingAndGlyphs">Rho gro</text>
<path d="M450.55 121.65h2.3v2.3h-2.3zM453.10 121.65h2.3v2.3h-2.3zM455.65 121.65h2.3v2.3h-2.3z" fill="#111"/>
<path d="M464.85 121.65h2.3v2.3h-2.3z" fill="#111"/>
<path d="M469.95 121.65h2.3v2.3h-2.3zM472.95 121.65h2.3v2.3h-2.3z" fill="#111"/>
<path d="M483.45 121.65h2.3v2.3h-2.3z" fill="#111"/>
<path d="M489.35 121.65h2.3v2.3h-2.3zM491.15 121.65h2.3v2.3h-2.3z" fill="#111"/>
<text x="649.5" y="125.0" font-size="9.0" text-anchor="start" stroke="#222" stroke-width="0.2" font-style="italic" textLength="32.64" lengthAdjust="spacingAndGlyphs">SPH FLA</text>
<path d="M438.55 136.35h2.3v2.3h-2.3z" fill="#111"/>
<path d="M454.15 136.35h2.3v2.3h-2.3z" fill="#111"/>
<path d="M476.35 136.35h2.3v2.3h-2.3zM479.25 136.35h2.3v2.3h-2.3z" fill="#111"/>
<path d="M487.45 136.35h2.3v2.3h-2.3zM489.55 136.35h2.3v2.3h-2.3z" fill="#111"/>
<path d="M511.55 136.35h2.3v2.3h-2.3zM513.45 136.35h2.3v2.3h-2.3z" fill="#111"/>
<path d="M528.75 136.35h2.3v2.3h-2.3zM531.48 136.35h2.3v2.3h-2.3zM534.22 136.35h2.3v2.3h-2.3zM536.95 136.35h2.3v2.3h-2.3z" fill="#111"/>
<text x="649.5" y="139.4" font-size="9.0" text-anchor="start" stroke="#222" stroke-width="0.2" font-style="italic" textLength="26.55" lengthAdjust="spacingAndGlyphs">Cha cal</text>
<path d="M436.75 150.75h2.3v2.3h-2.3zM439.15 150.75h2.3v2.3h-2.3zM441.55 150.75h2.3v2.3h-2.3zM443.95 150.75h2.3v2.3h-2.3zM446.35 150.75h2.3v2.3h-2.3zM448.75 150.75h2.3v2.3h-2.3z" fill="#111"/>
<path d="M455.25 150.75h2.3v2.3h-2.3z" fill="#111"/>
<path d="M461.75 150.75h2.3v2.3h-2.3zM464.31 150.75h2.3v2.3h-2.3zM466.87 150.75h2.3v2.3h-2.3zM469.43 150.75h2.3v2.3h-2.3zM471.99 150.75h2.3v2.3h-2.3zM474.55 150.75h2.3v2.3h-2.3z" fill="#111"/>
<path d="M491.35 150.75h2.3v2.3h-2.3zM493.65 150.75h2.3v2.3h-2.3z" fill="#111"/>
<path d="M502.35 150.75h2.3v2.3h-2.3z" fill="#111"/>
<path d="M510.75 150.75h2.3v2.3h-2.3zM512.55 150.75h2.3v2.3h-2.3z" fill="#111"/>
<path d="M518.15 150.75h2.3v2.3h-2.3z" fill="#111"/>
<path d="M523.55 150.75h2.3v2.3h-2.3z" fill="#111"/>
<path d="M538.75 150.75h2.3v2.3h-2.3zM541.58 150.75h2.3v2.3h-2.3zM544.42 150.75h2.3v2.3h-2.3zM547.25 150.75h2.3v2.3h-2.3z" fill="#111"/>
<path d="M551.25 150.75h2.3v2.3h-2.3zM553.79 150.75h2.3v2.3h-2.3zM556.33 150.75h2.3v2.3h-2.3zM558.87 150.75h2.3v2.3h-2.3zM561.41 150.75h2.3v2.3h-2.3zM563.95 150.75h2.3v2.3h-2.3z" fill="#111"/>
<path d="M567.75 150.75h2.3v2.3h-2.3zM570.03 150.75h2.3v2.3h-2.3zM572.31 150.75h2.3v2.3h-2.3zM574.59 150.75h2.3v2.3h-2.3zM576.87 150.75h2.3v2.3h-2.3zM579.15 150.75h2.3v2.3h-2.3z" fill="#111"/>
<path d="M593.05 150.75h2.3v2.3h-2.3z" fill="#111"/>
<path d="M600.85 150.75h2.3v2.3h-2.3z" fill="#111"/>
<path d="M609.15 150.75h2.3v2.3h-2.3z" fill="#111"/>
<text x="649.5" y="154.0" font-size="9.0" text-anchor="start" stroke="#666" stroke-width="0.2" font-style="italic" fill="#666" textLength="26.54" lengthAdjust="spacingAndGlyphs">Pic mar</text>
<path d="M436.75 165.75h2.3v2.3h-2.3zM439.43 165.75h2.3v2.3h-2.3zM442.11 165.75h2.3v2.3h-2.3zM444.79 165.75h2.3v2.3h-2.3zM447.47 165.75h2.3v2.3h-2.3zM450.15 165.75h2.3v2.3h-2.3z" fill="#111"/>
<path d="M456.55 165.75h2.3v2.3h-2.3z" fill="#111"/>
<path d="M460.85 165.75h2.3v2.3h-2.3z" fill="#111"/>
<path d="M466.35 165.75h2.3v2.3h-2.3z" fill="#111"/>
<path d="M473.25 165.75h2.3v2.3h-2.3z" fill="#111"/>
<path d="M477.35 165.75h2.3v2.3h-2.3z" fill="#111"/>
<path d="M481.75 165.75h2.3v2.3h-2.3zM484.35 165.75h2.3v2.3h-2.3zM486.95 165.75h2.3v2.3h-2.3zM489.55 165.75h2.3v2.3h-2.3z" fill="#111"/>
<path d="M495.45 165.75h2.3v2.3h-2.3z" fill="#111"/>
<path d="M500.45 165.75h2.3v2.3h-2.3z" fill="#111"/>
<path d="M504.05 165.75h2.3v2.3h-2.3zM506.48 165.75h2.3v2.3h-2.3zM508.92 165.75h2.3v2.3h-2.3zM511.35 165.75h2.3v2.3h-2.3zM513.79 165.75h2.3v2.3h-2.3zM516.22 165.75h2.3v2.3h-2.3zM518.66 165.75h2.3v2.3h-2.3zM521.09 165.75h2.3v2.3h-2.3zM523.52 165.75h2.3v2.3h-2.3zM525.96 165.75h2.3v2.3h-2.3zM528.39 165.75h2.3v2.3h-2.3zM530.83 165.75h2.3v2.3h-2.3zM533.26 165.75h2.3v2.3h-2.3zM535.70 165.75h2.3v2.3h-2.3zM538.13 165.75h2.3v2.3h-2.3zM540.57 165.75h2.3v2.3h-2.3zM543.00 165.75h2.3v2.3h-2.3zM545.43 165.75h2.3v2.3h-2.3zM547.87 165.75h2.3v2.3h-2.3zM550.30 165.75h2.3v2.3h-2.3zM552.74 165.75h2.3v2.3h-2.3zM555.17 165.75h2.3v2.3h-2.3zM557.61 165.75h2.3v2.3h-2.3zM560.04 165.75h2.3v2.3h-2.3zM562.48 165.75h2.3v2.3h-2.3zM564.91 165.75h2.3v2.3h-2.3zM567.34 165.75h2.3v2.3h-2.3zM569.78 165.75h2.3v2.3h-2.3zM572.21 165.75h2.3v2.3h-2.3zM574.65 165.75h2.3v2.3h-2.3zM577.08 165.75h2.3v2.3h-2.3zM579.52 165.75h2.3v2.3h-2.3zM581.95 165.75h2.3v2.3h-2.3z" fill="#111"/>
<path d="M593.85 165.75h2.3v2.3h-2.3z" fill="#111"/>
<text x="649.5" y="168.9" font-size="9.0" text-anchor="start" stroke="#222" stroke-width="0.2" font-style="italic" textLength="29.16" lengthAdjust="spacingAndGlyphs">Rho can</text>
<path d="M434.35 179.95h2.3v2.3h-2.3z" fill="#111"/>
<path d="M440.75 179.95h2.3v2.3h-2.3z" fill="#111"/>
<path d="M446.35 179.95h2.3v2.3h-2.3zM448.88 179.95h2.3v2.3h-2.3zM451.41 179.95h2.3v2.3h-2.3zM453.94 179.95h2.3v2.3h-2.3zM456.47 179.95h2.3v2.3h-2.3zM459.00 179.95h2.3v2.3h-2.3zM461.53 179.95h2.3v2.3h-2.3zM464.07 179.95h2.3v2.3h-2.3zM466.60 179.95h2.3v2.3h-2.3zM469.13 179.95h2.3v2.3h-2.3zM471.66 179.95h2.3v2.3h-2.3zM474.19 179.95h2.3v2.3h-2.3zM476.72 179.95h2.3v2.3h-2.3zM479.25 179.95h2.3v2.3h-2.3z" fill="#111"/>
<path d="M484.75 179.95h2.3v2.3h-2.3zM487.05 179.95h2.3v2.3h-2.3zM489.35 179.95h2.3v2.3h-2.3zM491.65 179.95h2.3v2.3h-2.3zM493.95 179.95h2.3v2.3h-2.3z" fill="#111"/>
<path d="M497.75 179.95h2.3v2.3h-2.3zM500.40 179.95h2.3v2.3h-2.3zM503.05 179.95h2.3v2.3h-2.3zM505.70 179.95h2.3v2.3h-2.3zM508.35 179.95h2.3v2.3h-2.3z" fill="#111"/>
<path d="M512.45 179.95h2.3v2.3h-2.3zM515.05 179.95h2.3v2.3h-2.3zM517.65 179.95h2.3v2.3h-2.3zM520.25 179.95h2.3v2.3h-2.3zM522.85 179.95h2.3v2.3h-2.3z" fill="#111"/>
<path d="M533.75 179.95h2.3v2.3h-2.3zM535.55 179.95h2.3v2.3h-2.3z" fill="#111"/>
<path d="M544.75 179.95h2.3v2.3h-2.3zM547.45 179.95h2.3v2.3h-2.3zM550.15 179.95h2.3v2.3h-2.3zM552.85 179.95h2.3v2.3h-2.3zM555.55 179.95h2.3v2.3h-2.3z" fill="#111"/>
<path d="M561.45 179.95h2.3v2.3h-2.3z" fill="#111"/>
<path d="M567.05 179.95h2.3v2.3h-2.3zM569.51 179.95h2.3v2.3h-2.3zM571.97 179.95h2.3v2.3h-2.3zM574.43 179.95h2.3v2.3h-2.3zM576.89 179.95h2.3v2.3h-2.3zM579.35 179.95h2.3v2.3h-2.3zM581.81 179.95h2.3v2.3h-2.3zM584.27 179.95h2.3v2.3h-2.3zM586.73 179.95h2.3v2.3h-2.3zM589.19 179.95h2.3v2.3h-2.3zM591.65 179.95h2.3v2.3h-2.3z" fill="#111"/>
<path d="M598.95 179.95h2.3v2.3h-2.3zM601.35 179.95h2.3v2.3h-2.3z" fill="#111"/>
<path d="M608.75 179.95h2.3v2.3h-2.3zM611.00 179.95h2.3v2.3h-2.3zM613.25 179.95h2.3v2.3h-2.3z" fill="#111"/>
<text x="649.5" y="183.8" font-size="9.0" text-anchor="start" stroke="#222" stroke-width="0.2" font-style="italic" textLength="26.55" lengthAdjust="spacingAndGlyphs">Kal ang</text>
<path d="M434.75 194.65h2.3v2.3h-2.3zM437.65 194.65h2.3v2.3h-2.3z" fill="#111"/>
<path d="M462.65 194.65h2.3v2.3h-2.3z" fill="#111"/>
<path d="M471.95 194.65h2.3v2.3h-2.3zM473.75 194.65h2.3v2.3h-2.3z" fill="#111"/>
<path d="M476.35 194.65h2.3v2.3h-2.3zM478.77 194.65h2.3v2.3h-2.3zM481.19 194.65h2.3v2.3h-2.3zM483.61 194.65h2.3v2.3h-2.3zM486.03 194.65h2.3v2.3h-2.3zM488.45 194.65h2.3v2.3h-2.3z" fill="#111"/>
<path d="M492.65 194.65h2.3v2.3h-2.3z" fill="#111"/>
<path d="M498.85 194.65h2.3v2.3h-2.3z" fill="#111"/>
<path d="M510.15 194.65h2.3v2.3h-2.3zM513.35 194.65h2.3v2.3h-2.3z" fill="#111"/>
<path d="M521.75 194.65h2.3v2.3h-2.3zM524.45 194.65h2.3v2.3h-2.3z" fill="#111"/>
<text x="649.5" y="198.9" font-size="9.0" text-anchor="start" stroke="#222" stroke-width="0.2" font-style="italic" textLength="34.3" lengthAdjust="spacingAndGlyphs">SPH RUB</text>
<line x1="435.2" y1="208.2" x2="615.8" y2="208.2" stroke="#252525" stroke-width="1.3"/>
<line x1="435.2" y1="205.4" x2="435.2" y2="208.2" stroke="#333" stroke-width="1.0"/>
<text x="436.4" y="220.9" font-size="8.8" text-anchor="middle" stroke="#1c1c1c" stroke-width="0.3" fill="#1c1c1c" textLength="4.3" lengthAdjust="spacingAndGlyphs">0</text>
<line x1="487.0" y1="205.4" x2="487.0" y2="208.2" stroke="#333" stroke-width="1.0"/>
<text x="487.8" y="220.9" font-size="8.8" text-anchor="middle" stroke="#1c1c1c" stroke-width="0.3" fill="#1c1c1c" textLength="8.6" lengthAdjust="spacingAndGlyphs">20</text>
<line x1="538.6" y1="205.4" x2="538.6" y2="208.2" stroke="#333" stroke-width="1.0"/>
<text x="539.0" y="220.9" font-size="8.8" text-anchor="middle" stroke="#1c1c1c" stroke-width="0.3" fill="#1c1c1c" textLength="8.6" lengthAdjust="spacingAndGlyphs">40</text>
<line x1="589.7" y1="205.4" x2="589.7" y2="208.2" stroke="#333" stroke-width="1.0"/>
<text x="590.5" y="220.9" font-size="8.8" text-anchor="middle" stroke="#1c1c1c" stroke-width="0.3" fill="#1c1c1c" textLength="8.6" lengthAdjust="spacingAndGlyphs">60</text>
<rect x="592.6" y="237.0" width="12.1" height="2.4" fill="#111"/>
<path d="M612.45 237.05h2.3v2.3h-2.3z" fill="#111"/>
<text x="642.9" y="240.0" font-size="9.0" text-anchor="start" stroke="#222" stroke-width="0.2" font-style="italic" textLength="25.32" lengthAdjust="spacingAndGlyphs">Abi bal</text>
<path d="M513.15 250.25h2.3v2.3h-2.3zM515.43 250.25h2.3v2.3h-2.3zM517.71 250.25h2.3v2.3h-2.3zM519.99 250.25h2.3v2.3h-2.3zM522.27 250.25h2.3v2.3h-2.3zM524.55 250.25h2.3v2.3h-2.3z" fill="#111"/>
<path d="M537.05 250.25h2.3v2.3h-2.3z" fill="#111"/>
<path d="M545.85 250.25h2.3v2.3h-2.3zM548.18 250.25h2.3v2.3h-2.3zM550.50 250.25h2.3v2.3h-2.3zM552.83 250.25h2.3v2.3h-2.3zM555.15 250.25h2.3v2.3h-2.3z" fill="#111"/>
<path d="M558.45 250.25h2.3v2.3h-2.3zM560.86 250.25h2.3v2.3h-2.3zM563.27 250.25h2.3v2.3h-2.3zM565.68 250.25h2.3v2.3h-2.3zM568.09 250.25h2.3v2.3h-2.3zM570.50 250.25h2.3v2.3h-2.3zM572.90 250.25h2.3v2.3h-2.3zM575.31 250.25h2.3v2.3h-2.3zM577.72 250.25h2.3v2.3h-2.3zM580.13 250.25h2.3v2.3h-2.3zM582.54 250.25h2.3v2.3h-2.3zM584.95 250.25h2.3v2.3h-2.3z" fill="#111"/>
<path d="M610.05 250.25h2.3v2.3h-2.3z" fill="#111"/>
<text x="642.9" y="252.2" font-size="9.0" text-anchor="start" stroke="#222" stroke-width="0.2" font-style="italic" textLength="33.9" lengthAdjust="spacingAndGlyphs">SPH FAL</text>
<path d="M482.55 262.95h2.3v2.3h-2.3zM484.85 262.95h2.3v2.3h-2.3zM487.15 262.95h2.3v2.3h-2.3zM489.45 262.95h2.3v2.3h-2.3z" fill="#111"/>
<path d="M499.15 262.95h2.3v2.3h-2.3zM500.45 262.95h2.3v2.3h-2.3z" fill="#111"/>
<path d="M504.75 262.95h2.3v2.3h-2.3zM507.15 262.95h2.3v2.3h-2.3zM509.55 262.95h2.3v2.3h-2.3zM511.95 262.95h2.3v2.3h-2.3zM514.35 262.95h2.3v2.3h-2.3z" fill="#111"/>
<path d="M522.45 262.95h2.3v2.3h-2.3z" fill="#111"/>
<path d="M539.45 262.95h2.3v2.3h-2.3zM542.05 262.95h2.3v2.3h-2.3z" fill="#111"/>
<text x="642.9" y="265.3" font-size="9.0" text-anchor="start" stroke="#222" stroke-width="0.2" font-style="italic" textLength="28.07" lengthAdjust="spacingAndGlyphs">Cha cal</text>
<path d="M474.65 276.05h2.3v2.3h-2.3zM476.35 276.05h2.3v2.3h-2.3z" fill="#111"/>
<path d="M490.25 276.05h2.3v2.3h-2.3z" fill="#111"/>
<path d="M495.55 276.05h2.3v2.3h-2.3z" fill="#111"/>
<path d="M499.05 276.05h2.3v2.3h-2.3z" fill="#111"/>
<path d="M507.75 276.05h2.3v2.3h-2.3z" fill="#111"/>
<path d="M511.45 276.05h2.3v2.3h-2.3z" fill="#111"/>
<path d="M515.05 276.05h2.3v2.3h-2.3z" fill="#111"/>
<path d="M520.25 276.05h2.3v2.3h-2.3z" fill="#111"/>
<path d="M527.15 276.05h2.3v2.3h-2.3zM529.50 276.05h2.3v2.3h-2.3zM531.85 276.05h2.3v2.3h-2.3z" fill="#111"/>
<path d="M550.55 276.05h2.3v2.3h-2.3z" fill="#111"/>
<path d="M558.45 276.05h2.3v2.3h-2.3zM561.20 276.05h2.3v2.3h-2.3zM563.95 276.05h2.3v2.3h-2.3z" fill="#111"/>
<path d="M577.05 276.05h2.3v2.3h-2.3z" fill="#111"/>
<path d="M599.85 276.05h2.3v2.3h-2.3z" fill="#111"/>
<text x="642.9" y="278.9" font-size="9.0" text-anchor="start" stroke="#222" stroke-width="0.2" font-style="italic" textLength="38.03" lengthAdjust="spacingAndGlyphs">POL COM</text>
<path d="M467.85 288.45h2.3v2.3h-2.3z" fill="#111"/>
<path d="M473.75 288.45h2.3v2.3h-2.3zM476.21 288.45h2.3v2.3h-2.3zM478.66 288.45h2.3v2.3h-2.3zM481.12 288.45h2.3v2.3h-2.3zM483.58 288.45h2.3v2.3h-2.3zM486.04 288.45h2.3v2.3h-2.3zM488.49 288.45h2.3v2.3h-2.3zM490.95 288.45h2.3v2.3h-2.3z" fill="#111"/>
<path d="M507.35 288.45h2.3v2.3h-2.3zM509.83 288.45h2.3v2.3h-2.3zM512.30 288.45h2.3v2.3h-2.3zM514.77 288.45h2.3v2.3h-2.3zM517.25 288.45h2.3v2.3h-2.3z" fill="#111"/>
<path d="M529.25 288.45h2.3v2.3h-2.3zM531.49 288.45h2.3v2.3h-2.3zM533.73 288.45h2.3v2.3h-2.3zM535.97 288.45h2.3v2.3h-2.3zM538.21 288.45h2.3v2.3h-2.3zM540.45 288.45h2.3v2.3h-2.3z" fill="#111"/>
<path d="M545.25 288.45h2.3v2.3h-2.3zM547.89 288.45h2.3v2.3h-2.3zM550.53 288.45h2.3v2.3h-2.3zM553.17 288.45h2.3v2.3h-2.3zM555.81 288.45h2.3v2.3h-2.3zM558.45 288.45h2.3v2.3h-2.3z" fill="#111"/>
<path d="M562.75 288.45h2.3v2.3h-2.3zM565.15 288.45h2.3v2.3h-2.3zM567.55 288.45h2.3v2.3h-2.3zM569.95 288.45h2.3v2.3h-2.3z" fill="#111"/>
<path d="M576.25 288.45h2.3v2.3h-2.3zM578.43 288.45h2.3v2.3h-2.3zM580.60 288.45h2.3v2.3h-2.3zM582.77 288.45h2.3v2.3h-2.3zM584.95 288.45h2.3v2.3h-2.3z" fill="#111"/>
<text x="642.9" y="291.6" font-size="9.0" text-anchor="start" stroke="#222" stroke-width="0.2" font-style="italic" textLength="22.54" lengthAdjust="spacingAndGlyphs">Car tri</text>
<path d="M442.55 301.05h2.3v2.3h-2.3zM445.65 301.05h2.3v2.3h-2.3z" fill="#111"/>
<path d="M453.85 301.05h2.3v2.3h-2.3z" fill="#111"/>
<path d="M479.65 301.05h2.3v2.3h-2.3zM481.65 301.05h2.3v2.3h-2.3zM483.65 301.05h2.3v2.3h-2.3z" fill="#111"/>
<path d="M512.55 301.05h2.3v2.3h-2.3z" fill="#111"/>
<path d="M518.25 301.05h2.3v2.3h-2.3z" fill="#111"/>
<path d="M534.25 301.05h2.3v2.3h-2.3zM536.79 301.05h2.3v2.3h-2.3zM539.33 301.05h2.3v2.3h-2.3zM541.87 301.05h2.3v2.3h-2.3zM544.41 301.05h2.3v2.3h-2.3zM546.95 301.05h2.3v2.3h-2.3z" fill="#111"/>
<path d="M550.75 301.05h2.3v2.3h-2.3zM553.75 301.05h2.3v2.3h-2.3z" fill="#111"/>
<path d="M565.15 301.05h2.3v2.3h-2.3zM567.45 301.05h2.3v2.3h-2.3zM569.75 301.05h2.3v2.3h-2.3z" fill="#111"/>
<path d="M589.05 301.05h2.3v2.3h-2.3zM591.10 301.05h2.3v2.3h-2.3zM593.15 301.05h2.3v2.3h-2.3z" fill="#111"/>
<path d="M597.85 301.05h2.3v2.3h-2.3z" fill="#111"/>
<path d="M603.75 301.05h2.3v2.3h-2.3z" fill="#111"/>
<path d="M608.75 301.05h2.3v2.3h-2.3zM611.32 301.05h2.3v2.3h-2.3zM613.88 301.05h2.3v2.3h-2.3zM616.45 301.05h2.3v2.3h-2.3z" fill="#111"/>
<text x="642.9" y="305.4" font-size="9.0" text-anchor="start" stroke="#222" stroke-width="0.2" font-style="italic" textLength="26.69" lengthAdjust="spacingAndGlyphs">Ile muc</text>
<path d="M439.65 313.55h2.3v2.3h-2.3zM442.75 313.55h2.3v2.3h-2.3z" fill="#111"/>
<path d="M448.95 313.55h2.3v2.3h-2.3zM451.55 313.55h2.3v2.3h-2.3z" fill="#111"/>
<path d="M460.65 313.55h2.3v2.3h-2.3zM463.95 313.55h2.3v2.3h-2.3z" fill="#111"/>
<path d="M468.75 313.55h2.3v2.3h-2.3zM471.38 313.55h2.3v2.3h-2.3zM474.00 313.55h2.3v2.3h-2.3zM476.63 313.55h2.3v2.3h-2.3zM479.25 313.55h2.3v2.3h-2.3z" fill="#111"/>
<path d="M499.15 313.55h2.3v2.3h-2.3z" fill="#111"/>
<path d="M508.75 313.55h2.3v2.3h-2.3z" fill="#111"/>
<path d="M513.75 313.55h2.3v2.3h-2.3zM517.25 313.55h2.3v2.3h-2.3z" fill="#111"/>
<path d="M525.45 313.55h2.3v2.3h-2.3zM527.45 313.55h2.3v2.3h-2.3z" fill="#111"/>
<path d="M533.65 313.55h2.3v2.3h-2.3zM536.15 313.55h2.3v2.3h-2.3z" fill="#111"/>
<path d="M551.65 313.55h2.3v2.3h-2.3z" fill="#111"/>
<path d="M571.25 313.55h2.3v2.3h-2.3z" fill="#111"/>
<path d="M584.75 313.55h2.3v2.3h-2.3zM587.25 313.55h2.3v2.3h-2.3z" fill="#111"/>
<path d="M600.45 313.55h2.3v2.3h-2.3z" fill="#111"/>
<path d="M610.05 313.55h2.3v2.3h-2.3z" fill="#111"/>
<text x="642.9" y="318.0" font-size="9.0" text-anchor="start" stroke="#222" stroke-width="0.2" font-style="italic" textLength="28.08" lengthAdjust="spacingAndGlyphs">Kal ang</text>
<path d="M439.25 326.75h2.3v2.3h-2.3z" fill="#111"/>
<path d="M458.25 326.75h2.3v2.3h-2.3zM460.69 326.75h2.3v2.3h-2.3zM463.14 326.75h2.3v2.3h-2.3zM465.58 326.75h2.3v2.3h-2.3zM468.02 326.75h2.3v2.3h-2.3zM470.46 326.75h2.3v2.3h-2.3zM472.91 326.75h2.3v2.3h-2.3zM475.35 326.75h2.3v2.3h-2.3zM477.79 326.75h2.3v2.3h-2.3zM480.24 326.75h2.3v2.3h-2.3zM482.68 326.75h2.3v2.3h-2.3zM485.12 326.75h2.3v2.3h-2.3zM487.56 326.75h2.3v2.3h-2.3zM490.01 326.75h2.3v2.3h-2.3zM492.45 326.75h2.3v2.3h-2.3z" fill="#111"/>
<path d="M497.15 326.75h2.3v2.3h-2.3zM500.25 326.75h2.3v2.3h-2.3z" fill="#111"/>
<path d="M507.85 326.75h2.3v2.3h-2.3z" fill="#111"/>
<path d="M516.65 326.75h2.3v2.3h-2.3z" fill="#111"/>
<path d="M540.05 326.75h2.3v2.3h-2.3z" fill="#111"/>
<path d="M554.05 326.75h2.3v2.3h-2.3z" fill="#111"/>
<path d="M597.55 326.75h2.3v2.3h-2.3z" fill="#111"/>
<text x="642.9" y="330.6" font-size="9.0" text-anchor="start" stroke="#222" stroke-width="0.2" font-style="italic" textLength="36.96" lengthAdjust="spacingAndGlyphs">SPH ANG</text>
<path d="M439.65 339.55h2.3v2.3h-2.3zM442.25 339.55h2.3v2.3h-2.3zM444.85 339.55h2.3v2.3h-2.3z" fill="#111"/>
<path d="M451.25 339.55h2.3v2.3h-2.3zM453.66 339.55h2.3v2.3h-2.3zM456.08 339.55h2.3v2.3h-2.3zM458.49 339.55h2.3v2.3h-2.3zM460.91 339.55h2.3v2.3h-2.3zM463.32 339.55h2.3v2.3h-2.3zM465.74 339.55h2.3v2.3h-2.3zM468.15 339.55h2.3v2.3h-2.3z" fill="#111"/>
<path d="M474.65 339.55h2.3v2.3h-2.3zM477.15 339.55h2.3v2.3h-2.3zM479.65 339.55h2.3v2.3h-2.3zM482.15 339.55h2.3v2.3h-2.3z" fill="#111"/>
<text x="642.9" y="344.0" font-size="9.0" text-anchor="start" stroke="#222" stroke-width="0.2" font-style="italic" textLength="21.16" lengthAdjust="spacingAndGlyphs">Eri vir</text>
<path d="M437.85 354.15h2.3v2.3h-2.3z" fill="#111"/>
<path d="M446.65 354.15h2.3v2.3h-2.3zM447.95 354.15h2.3v2.3h-2.3z" fill="#111"/>
<path d="M452.75 354.15h2.3v2.3h-2.3zM454.45 354.15h2.3v2.3h-2.3z" fill="#111"/>
<path d="M463.25 354.15h2.3v2.3h-2.3z" fill="#111"/>
<path d="M474.65 354.15h2.3v2.3h-2.3zM477.14 354.15h2.3v2.3h-2.3zM479.64 354.15h2.3v2.3h-2.3zM482.13 354.15h2.3v2.3h-2.3zM484.63 354.15h2.3v2.3h-2.3zM487.12 354.15h2.3v2.3h-2.3zM489.62 354.15h2.3v2.3h-2.3zM492.12 354.15h2.3v2.3h-2.3zM494.61 354.15h2.3v2.3h-2.3zM497.11 354.15h2.3v2.3h-2.3zM499.60 354.15h2.3v2.3h-2.3zM502.10 354.15h2.3v2.3h-2.3zM504.59 354.15h2.3v2.3h-2.3zM507.09 354.15h2.3v2.3h-2.3zM509.58 354.15h2.3v2.3h-2.3zM512.08 354.15h2.3v2.3h-2.3zM514.57 354.15h2.3v2.3h-2.3zM517.07 354.15h2.3v2.3h-2.3zM519.56 354.15h2.3v2.3h-2.3zM522.06 354.15h2.3v2.3h-2.3zM524.55 354.15h2.3v2.3h-2.3z" fill="#111"/>
<path d="M533.05 354.15h2.3v2.3h-2.3zM535.77 354.15h2.3v2.3h-2.3zM538.50 354.15h2.3v2.3h-2.3zM541.23 354.15h2.3v2.3h-2.3zM543.95 354.15h2.3v2.3h-2.3z" fill="#111"/>
<path d="M548.25 354.15h2.3v2.3h-2.3zM550.75 354.15h2.3v2.3h-2.3z" fill="#111"/>
<path d="M564.85 354.15h2.3v2.3h-2.3z" fill="#111"/>
<text x="642.9" y="358.3" font-size="9.0" text-anchor="start" stroke="#222" stroke-width="0.2" font-style="italic" textLength="30.84" lengthAdjust="spacingAndGlyphs">Rho can</text>
<path d="M426.95 366.85h2.3v2.3h-2.3zM429.55 366.85h2.3v2.3h-2.3z" fill="#6a6a6a"/>
<path d="M438.65 366.85h2.3v2.3h-2.3zM441.15 366.85h2.3v2.3h-2.3zM443.65 366.85h2.3v2.3h-2.3zM446.15 366.85h2.3v2.3h-2.3zM448.65 366.85h2.3v2.3h-2.3zM451.15 366.85h2.3v2.3h-2.3zM453.65 366.85h2.3v2.3h-2.3z" fill="#6a6a6a"/>
<path d="M460.95 366.85h2.3v2.3h-2.3zM464.15 366.85h2.3v2.3h-2.3z" fill="#6a6a6a"/>
<path d="M471.15 366.85h2.3v2.3h-2.3zM473.70 366.85h2.3v2.3h-2.3zM476.25 366.85h2.3v2.3h-2.3zM478.80 366.85h2.3v2.3h-2.3zM481.35 366.85h2.3v2.3h-2.3zM483.90 366.85h2.3v2.3h-2.3zM486.45 366.85h2.3v2.3h-2.3zM489.00 366.85h2.3v2.3h-2.3zM491.55 366.85h2.3v2.3h-2.3zM494.10 366.85h2.3v2.3h-2.3zM496.65 366.85h2.3v2.3h-2.3z" fill="#6a6a6a"/>
<path d="M507.25 366.85h2.3v2.3h-2.3zM510.00 366.85h2.3v2.3h-2.3zM512.75 366.85h2.3v2.3h-2.3z" fill="#6a6a6a"/>
<path d="M518.15 366.85h2.3v2.3h-2.3zM521.75 366.85h2.3v2.3h-2.3z" fill="#6a6a6a"/>
<path d="M525.95 366.85h2.3v2.3h-2.3zM528.35 366.85h2.3v2.3h-2.3zM530.75 366.85h2.3v2.3h-2.3zM533.15 366.85h2.3v2.3h-2.3zM535.55 366.85h2.3v2.3h-2.3zM537.95 366.85h2.3v2.3h-2.3zM540.35 366.85h2.3v2.3h-2.3zM542.75 366.85h2.3v2.3h-2.3zM545.15 366.85h2.3v2.3h-2.3zM547.55 366.85h2.3v2.3h-2.3zM549.95 366.85h2.3v2.3h-2.3zM552.35 366.85h2.3v2.3h-2.3zM554.75 366.85h2.3v2.3h-2.3zM557.15 366.85h2.3v2.3h-2.3zM559.55 366.85h2.3v2.3h-2.3zM561.95 366.85h2.3v2.3h-2.3zM564.35 366.85h2.3v2.3h-2.3zM566.75 366.85h2.3v2.3h-2.3zM569.15 366.85h2.3v2.3h-2.3zM571.55 366.85h2.3v2.3h-2.3zM573.95 366.85h2.3v2.3h-2.3z" fill="#6a6a6a"/>
<path d="M584.55 366.85h2.3v2.3h-2.3zM587.12 366.85h2.3v2.3h-2.3zM589.70 366.85h2.3v2.3h-2.3zM592.27 366.85h2.3v2.3h-2.3zM594.85 366.85h2.3v2.3h-2.3z" fill="#6a6a6a"/>
<path d="M599.55 366.85h2.3v2.3h-2.3zM601.91 366.85h2.3v2.3h-2.3zM604.27 366.85h2.3v2.3h-2.3zM606.64 366.85h2.3v2.3h-2.3zM609.00 366.85h2.3v2.3h-2.3zM611.36 366.85h2.3v2.3h-2.3zM613.73 366.85h2.3v2.3h-2.3zM616.09 366.85h2.3v2.3h-2.3zM618.45 366.85h2.3v2.3h-2.3z" fill="#6a6a6a"/>
<text x="642.9" y="370.6" font-size="9.0" text-anchor="start" stroke="#555" stroke-width="0.2" font-style="italic" fill="#555" textLength="28.06" lengthAdjust="spacingAndGlyphs">Pic mar</text>
<path d="M427.75 379.65h2.3v2.3h-2.3zM430.23 379.65h2.3v2.3h-2.3zM432.71 379.65h2.3v2.3h-2.3zM435.20 379.65h2.3v2.3h-2.3zM437.68 379.65h2.3v2.3h-2.3zM440.16 379.65h2.3v2.3h-2.3zM442.64 379.65h2.3v2.3h-2.3zM445.13 379.65h2.3v2.3h-2.3zM447.61 379.65h2.3v2.3h-2.3zM450.09 379.65h2.3v2.3h-2.3zM452.57 379.65h2.3v2.3h-2.3zM455.06 379.65h2.3v2.3h-2.3zM457.54 379.65h2.3v2.3h-2.3zM460.02 379.65h2.3v2.3h-2.3zM462.50 379.65h2.3v2.3h-2.3zM464.99 379.65h2.3v2.3h-2.3zM467.47 379.65h2.3v2.3h-2.3zM469.95 379.65h2.3v2.3h-2.3z" fill="#111"/>
<path d="M475.95 379.65h2.3v2.3h-2.3zM478.45 379.65h2.3v2.3h-2.3zM480.95 379.65h2.3v2.3h-2.3zM483.45 379.65h2.3v2.3h-2.3zM485.95 379.65h2.3v2.3h-2.3zM488.45 379.65h2.3v2.3h-2.3zM490.95 379.65h2.3v2.3h-2.3zM493.45 379.65h2.3v2.3h-2.3zM495.95 379.65h2.3v2.3h-2.3z" fill="#111"/>
<path d="M514.75 379.65h2.3v2.3h-2.3z" fill="#111"/>
<path d="M520.25 379.65h2.3v2.3h-2.3z" fill="#111"/>
<path d="M529.15 379.65h2.3v2.3h-2.3z" fill="#111"/>
<path d="M564.45 379.65h2.3v2.3h-2.3z" fill="#111"/>
<path d="M570.85 379.65h2.3v2.3h-2.3z" fill="#111"/>
<path d="M600.85 379.65h2.3v2.3h-2.3z" fill="#111"/>
<path d="M609.85 379.65h2.3v2.3h-2.3z" fill="#111"/>
<path d="M615.85 379.65h2.3v2.3h-2.3z" fill="#111"/>
<text x="642.9" y="383.6" font-size="9.0" text-anchor="start" stroke="#222" stroke-width="0.2" font-style="italic" textLength="38.19" lengthAdjust="spacingAndGlyphs">SPH MAG</text>
<path d="M427.65 392.45h2.3v2.3h-2.3zM429.95 392.45h2.3v2.3h-2.3zM432.25 392.45h2.3v2.3h-2.3zM434.55 392.45h2.3v2.3h-2.3zM436.85 392.45h2.3v2.3h-2.3z" fill="#111"/>
<path d="M443.85 392.45h2.3v2.3h-2.3zM446.50 392.45h2.3v2.3h-2.3zM449.15 392.45h2.3v2.3h-2.3z" fill="#111"/>
<path d="M455.25 392.45h2.3v2.3h-2.3zM457.90 392.45h2.3v2.3h-2.3zM460.55 392.45h2.3v2.3h-2.3zM463.20 392.45h2.3v2.3h-2.3zM465.85 392.45h2.3v2.3h-2.3zM468.50 392.45h2.3v2.3h-2.3zM471.15 392.45h2.3v2.3h-2.3z" fill="#111"/>
<path d="M476.65 392.45h2.3v2.3h-2.3zM479.23 392.45h2.3v2.3h-2.3zM481.81 392.45h2.3v2.3h-2.3zM484.39 392.45h2.3v2.3h-2.3zM486.97 392.45h2.3v2.3h-2.3zM489.55 392.45h2.3v2.3h-2.3z" fill="#111"/>
<path d="M500.25 392.45h2.3v2.3h-2.3z" fill="#111"/>
<path d="M508.25 392.45h2.3v2.3h-2.3z" fill="#111"/>
<path d="M516.55 392.45h2.3v2.3h-2.3zM518.98 392.45h2.3v2.3h-2.3zM521.40 392.45h2.3v2.3h-2.3zM523.83 392.45h2.3v2.3h-2.3zM526.26 392.45h2.3v2.3h-2.3zM528.69 392.45h2.3v2.3h-2.3zM531.11 392.45h2.3v2.3h-2.3zM533.54 392.45h2.3v2.3h-2.3zM535.97 392.45h2.3v2.3h-2.3zM538.40 392.45h2.3v2.3h-2.3zM540.82 392.45h2.3v2.3h-2.3zM543.25 392.45h2.3v2.3h-2.3z" fill="#111"/>
<path d="M549.65 392.45h2.3v2.3h-2.3z" fill="#111"/>
<path d="M561.25 392.45h2.3v2.3h-2.3zM564.65 392.45h2.3v2.3h-2.3z" fill="#111"/>
<path d="M571.05 392.45h2.3v2.3h-2.3zM574.00 392.45h2.3v2.3h-2.3zM576.95 392.45h2.3v2.3h-2.3z" fill="#111"/>
<text x="642.9" y="397.6" font-size="9.0" text-anchor="start" stroke="#222" stroke-width="0.2" font-style="italic" textLength="22.54" lengthAdjust="spacingAndGlyphs">Mai tri</text>
<path d="M428.55 405.35h2.3v2.3h-2.3z" fill="#111"/>
<path d="M441.75 405.35h2.3v2.3h-2.3zM444.13 405.35h2.3v2.3h-2.3zM446.52 405.35h2.3v2.3h-2.3zM448.90 405.35h2.3v2.3h-2.3zM451.29 405.35h2.3v2.3h-2.3zM453.67 405.35h2.3v2.3h-2.3zM456.06 405.35h2.3v2.3h-2.3zM458.44 405.35h2.3v2.3h-2.3zM460.83 405.35h2.3v2.3h-2.3zM463.21 405.35h2.3v2.3h-2.3zM465.60 405.35h2.3v2.3h-2.3zM467.98 405.35h2.3v2.3h-2.3zM470.37 405.35h2.3v2.3h-2.3zM472.75 405.35h2.3v2.3h-2.3z" fill="#111"/>
<path d="M495.95 405.35h2.3v2.3h-2.3z" fill="#111"/>
<path d="M503.65 405.35h2.3v2.3h-2.3zM505.55 405.35h2.3v2.3h-2.3z" fill="#111"/>
<path d="M527.25 405.35h2.3v2.3h-2.3z" fill="#111"/>
<text x="642.9" y="408.9" font-size="9.0" text-anchor="start" stroke="#222" stroke-width="0.2" font-style="italic" textLength="23.47" lengthAdjust="spacingAndGlyphs">Lar lar</text>
<line x1="429.5" y1="418.2" x2="618.1" y2="418.2" stroke="#252525" stroke-width="1.3"/>
<line x1="429.5" y1="415.4" x2="429.5" y2="418.2" stroke="#333" stroke-width="1.0"/>
<text x="429.8" y="429.7" font-size="8.8" text-anchor="middle" stroke="#1c1c1c" stroke-width="0.3" fill="#1c1c1c" textLength="4.35" lengthAdjust="spacingAndGlyphs">0</text>
<line x1="458.4" y1="415.4" x2="458.4" y2="418.2" stroke="#333" stroke-width="1.0"/>
<text x="459.3" y="429.7" font-size="8.8" text-anchor="middle" stroke="#1c1c1c" stroke-width="0.3" fill="#1c1c1c" textLength="8.7" lengthAdjust="spacingAndGlyphs">20</text>
<line x1="487.4" y1="415.4" x2="487.4" y2="418.2" stroke="#333" stroke-width="1.0"/>
<text x="488.4" y="429.7" font-size="8.8" text-anchor="middle" stroke="#1c1c1c" stroke-width="0.3" fill="#1c1c1c" textLength="8.7" lengthAdjust="spacingAndGlyphs">40</text>
<line x1="516.4" y1="415.4" x2="516.4" y2="418.2" stroke="#333" stroke-width="1.0"/>
<text x="517.5" y="429.7" font-size="8.8" text-anchor="middle" stroke="#1c1c1c" stroke-width="0.3" fill="#1c1c1c" textLength="8.7" lengthAdjust="spacingAndGlyphs">60</text>
<line x1="545.5" y1="415.4" x2="545.5" y2="418.2" stroke="#333" stroke-width="1.0"/>
<text x="546.6" y="429.7" font-size="8.8" text-anchor="middle" stroke="#1c1c1c" stroke-width="0.3" fill="#1c1c1c" textLength="8.7" lengthAdjust="spacingAndGlyphs">80</text>
<line x1="574.7" y1="415.4" x2="574.7" y2="418.2" stroke="#333" stroke-width="1.0"/>
<text x="576.4" y="429.7" font-size="8.8" text-anchor="middle" stroke="#1c1c1c" stroke-width="0.3" fill="#1c1c1c" textLength="13.05" lengthAdjust="spacingAndGlyphs">100</text>
<line x1="603.6" y1="415.4" x2="603.6" y2="418.2" stroke="#333" stroke-width="1.0"/>
<text x="605.4" y="429.7" font-size="8.8" text-anchor="middle" stroke="#1c1c1c" stroke-width="0.3" fill="#1c1c1c" textLength="13.05" lengthAdjust="spacingAndGlyphs">120</text>
<rect x="603.9" y="442.3" width="17.9" height="2.4" fill="#111"/>
<text x="644.0" y="447.2" font-size="9.0" text-anchor="start" stroke="#222" stroke-width="0.2" font-style="italic" textLength="24.97" lengthAdjust="spacingAndGlyphs">Thu occ</text>
<path d="M560.05 454.25h2.3v2.3h-2.3zM562.18 454.25h2.3v2.3h-2.3zM564.32 454.25h2.3v2.3h-2.3zM566.45 454.25h2.3v2.3h-2.3z" fill="#111"/>
<path d="M570.55 454.25h2.3v2.3h-2.3zM572.85 454.25h2.3v2.3h-2.3zM575.15 454.25h2.3v2.3h-2.3z" fill="#111"/>
<path d="M579.35 454.25h2.3v2.3h-2.3zM581.55 454.25h2.3v2.3h-2.3z" fill="#111"/>
<path d="M588.05 454.25h2.3v2.3h-2.3zM589.75 454.25h2.3v2.3h-2.3z" fill="#111"/>
<path d="M596.55 454.25h2.3v2.3h-2.3z" fill="#111"/>
<path d="M609.65 454.25h2.3v2.3h-2.3z" fill="#111"/>
<text x="644.0" y="457.8" font-size="9.0" text-anchor="start" stroke="#222" stroke-width="0.2" font-style="italic" textLength="24.2" lengthAdjust="spacingAndGlyphs">Bet pap</text>
<path d="M547.15 466.85h2.3v2.3h-2.3zM549.56 466.85h2.3v2.3h-2.3zM551.98 466.85h2.3v2.3h-2.3zM554.39 466.85h2.3v2.3h-2.3zM556.81 466.85h2.3v2.3h-2.3zM559.22 466.85h2.3v2.3h-2.3zM561.64 466.85h2.3v2.3h-2.3zM564.05 466.85h2.3v2.3h-2.3z" fill="#111"/>
<path d="M571.65 466.85h2.3v2.3h-2.3z" fill="#111"/>
<path d="M576.35 466.85h2.3v2.3h-2.3zM578.73 466.85h2.3v2.3h-2.3zM581.11 466.85h2.3v2.3h-2.3zM583.49 466.85h2.3v2.3h-2.3zM585.86 466.85h2.3v2.3h-2.3zM588.24 466.85h2.3v2.3h-2.3zM590.62 466.85h2.3v2.3h-2.3zM593.00 466.85h2.3v2.3h-2.3zM595.38 466.85h2.3v2.3h-2.3zM597.76 466.85h2.3v2.3h-2.3zM600.14 466.85h2.3v2.3h-2.3zM602.51 466.85h2.3v2.3h-2.3zM604.89 466.85h2.3v2.3h-2.3zM607.27 466.85h2.3v2.3h-2.3zM609.65 466.85h2.3v2.3h-2.3z" fill="#111"/>
<path d="M622.25 466.85h2.3v2.3h-2.3zM625.35 466.85h2.3v2.3h-2.3z" fill="#111"/>
<text x="644.0" y="470.7" font-size="9.0" text-anchor="start" stroke="#222" stroke-width="0.2" font-style="italic" textLength="24.19" lengthAdjust="spacingAndGlyphs">Ace rub</text>
<path d="M520.95 479.15h2.3v2.3h-2.3zM522.65 479.15h2.3v2.3h-2.3z" fill="#111"/>
<path d="M527.35 479.15h2.3v2.3h-2.3zM530.10 479.15h2.3v2.3h-2.3zM532.85 479.15h2.3v2.3h-2.3z" fill="#111"/>
<path d="M542.45 479.15h2.3v2.3h-2.3z" fill="#111"/>
<path d="M562.05 479.15h2.3v2.3h-2.3zM563.85 479.15h2.3v2.3h-2.3z" fill="#111"/>
<path d="M569.65 479.15h2.3v2.3h-2.3z" fill="#111"/>
<path d="M588.35 479.15h2.3v2.3h-2.3z" fill="#111"/>
<text x="644.0" y="483.1" font-size="9.0" text-anchor="start" stroke="#222" stroke-width="0.2" font-style="italic" textLength="24.58" lengthAdjust="spacingAndGlyphs">Cor can</text>
<path d="M515.25 491.45h2.3v2.3h-2.3zM518.25 491.45h2.3v2.3h-2.3zM521.25 491.45h2.3v2.3h-2.3z" fill="#111"/>
<path d="M534.25 491.45h2.3v2.3h-2.3zM536.81 491.45h2.3v2.3h-2.3zM539.36 491.45h2.3v2.3h-2.3zM541.92 491.45h2.3v2.3h-2.3zM544.48 491.45h2.3v2.3h-2.3zM547.04 491.45h2.3v2.3h-2.3zM549.59 491.45h2.3v2.3h-2.3zM552.15 491.45h2.3v2.3h-2.3z" fill="#111"/>
<text x="644.0" y="495.8" font-size="9.0" text-anchor="start" stroke="#222" stroke-width="0.2" font-style="italic" textLength="23.79" lengthAdjust="spacingAndGlyphs">Pic mar</text>
<path d="M462.65 503.65h2.3v2.3h-2.3z" fill="#111"/>
<path d="M483.05 503.65h2.3v2.3h-2.3z" fill="#111"/>
<path d="M495.65 503.65h2.3v2.3h-2.3zM498.95 503.65h2.3v2.3h-2.3z" fill="#111"/>
<path d="M502.75 503.65h2.3v2.3h-2.3z" fill="#111"/>
<path d="M511.05 503.65h2.3v2.3h-2.3z" fill="#111"/>
<path d="M535.15 503.65h2.3v2.3h-2.3z" fill="#111"/>
<path d="M544.05 503.65h2.3v2.3h-2.3zM546.80 503.65h2.3v2.3h-2.3zM549.55 503.65h2.3v2.3h-2.3z" fill="#111"/>
<text x="644.0" y="508.1" font-size="9.0" text-anchor="start" stroke="#222" stroke-width="0.2" font-style="italic" textLength="20.67" lengthAdjust="spacingAndGlyphs">Cop tri</text>
<path d="M436.35 515.75h2.3v2.3h-2.3z" fill="#111"/>
<path d="M440.75 515.75h2.3v2.3h-2.3z" fill="#111"/>
<path d="M450.65 515.75h2.3v2.3h-2.3z" fill="#111"/>
<path d="M477.95 515.75h2.3v2.3h-2.3z" fill="#111"/>
<path d="M484.85 515.75h2.3v2.3h-2.3z" fill="#111"/>
<path d="M492.05 515.75h2.3v2.3h-2.3zM494.80 515.75h2.3v2.3h-2.3zM497.55 515.75h2.3v2.3h-2.3z" fill="#111"/>
<path d="M506.45 515.75h2.3v2.3h-2.3z" fill="#111"/>
<path d="M516.85 515.75h2.3v2.3h-2.3z" fill="#111"/>
<path d="M522.15 515.75h2.3v2.3h-2.3zM525.45 515.75h2.3v2.3h-2.3z" fill="#111"/>
<path d="M538.05 515.75h2.3v2.3h-2.3z" fill="#111"/>
<path d="M559.25 515.75h2.3v2.3h-2.3z" fill="#111"/>
<text x="644.0" y="520.8" font-size="9.0" text-anchor="start" stroke="#222" stroke-width="0.2" font-style="italic" textLength="28.74" lengthAdjust="spacingAndGlyphs">SPH FAL</text>
<path d="M432.15 528.05h2.3v2.3h-2.3zM434.15 528.05h2.3v2.3h-2.3zM436.15 528.05h2.3v2.3h-2.3z" fill="#111"/>
<path d="M443.65 528.05h2.3v2.3h-2.3z" fill="#111"/>
<path d="M448.05 528.05h2.3v2.3h-2.3z" fill="#111"/>
<path d="M455.65 528.05h2.3v2.3h-2.3z" fill="#111"/>
<path d="M464.85 528.05h2.3v2.3h-2.3z" fill="#111"/>
<path d="M477.25 528.05h2.3v2.3h-2.3z" fill="#111"/>
<path d="M490.35 528.05h2.3v2.3h-2.3z" fill="#111"/>
<path d="M496.35 528.05h2.3v2.3h-2.3z" fill="#111"/>
<path d="M502.25 528.05h2.3v2.3h-2.3zM505.55 528.05h2.3v2.3h-2.3z" fill="#111"/>
<path d="M511.75 528.05h2.3v2.3h-2.3zM515.05 528.05h2.3v2.3h-2.3z" fill="#111"/>
<path d="M531.45 528.05h2.3v2.3h-2.3z" fill="#111"/>
<path d="M543.55 528.05h2.3v2.3h-2.3z" fill="#111"/>
<path d="M550.65 528.05h2.3v2.3h-2.3zM553.25 528.05h2.3v2.3h-2.3z" fill="#111"/>
<path d="M559.35 528.05h2.3v2.3h-2.3zM561.75 528.05h2.3v2.3h-2.3zM564.15 528.05h2.3v2.3h-2.3z" fill="#111"/>
<path d="M568.15 528.05h2.3v2.3h-2.3zM570.75 528.05h2.3v2.3h-2.3z" fill="#111"/>
<path d="M574.75 528.05h2.3v2.3h-2.3zM576.82 528.05h2.3v2.3h-2.3zM578.88 528.05h2.3v2.3h-2.3zM580.95 528.05h2.3v2.3h-2.3z" fill="#111"/>
<text x="644.0" y="533.4" font-size="9.0" text-anchor="start" stroke="#222" stroke-width="0.2" font-style="italic" textLength="22.89" lengthAdjust="spacingAndGlyphs">Vib cas</text>
<path d="M430.25 540.25h2.3v2.3h-2.3z" fill="#111"/>
<path d="M435.75 540.25h2.3v2.3h-2.3z" fill="#111"/>
<path d="M453.35 540.25h2.3v2.3h-2.3zM456.65 540.25h2.3v2.3h-2.3z" fill="#111"/>
<path d="M464.85 540.25h2.3v2.3h-2.3z" fill="#111"/>
<path d="M469.35 540.25h2.3v2.3h-2.3zM471.40 540.25h2.3v2.3h-2.3zM473.45 540.25h2.3v2.3h-2.3z" fill="#111"/>
<path d="M480.15 540.25h2.3v2.3h-2.3z" fill="#111"/>
<path d="M489.65 540.25h2.3v2.3h-2.3z" fill="#111"/>
<text x="644.0" y="545.3" font-size="9.0" text-anchor="start" stroke="#222" stroke-width="0.2" font-style="italic" textLength="22.24" lengthAdjust="spacingAndGlyphs">Eri ang</text>
<path d="M430.25 552.65h2.3v2.3h-2.3z" fill="#111"/>
<path d="M437.05 552.65h2.3v2.3h-2.3z" fill="#111"/>
<path d="M449.65 552.65h2.3v2.3h-2.3zM452.95 552.65h2.3v2.3h-2.3z" fill="#111"/>
<path d="M458.45 552.65h2.3v2.3h-2.3zM460.70 552.65h2.3v2.3h-2.3zM462.95 552.65h2.3v2.3h-2.3zM465.20 552.65h2.3v2.3h-2.3zM467.45 552.65h2.3v2.3h-2.3zM469.70 552.65h2.3v2.3h-2.3zM471.95 552.65h2.3v2.3h-2.3z" fill="#111"/>
<path d="M476.65 552.65h2.3v2.3h-2.3zM479.08 552.65h2.3v2.3h-2.3zM481.51 552.65h2.3v2.3h-2.3zM483.94 552.65h2.3v2.3h-2.3zM486.37 552.65h2.3v2.3h-2.3zM488.80 552.65h2.3v2.3h-2.3zM491.23 552.65h2.3v2.3h-2.3zM493.66 552.65h2.3v2.3h-2.3zM496.09 552.65h2.3v2.3h-2.3zM498.52 552.65h2.3v2.3h-2.3zM500.95 552.65h2.3v2.3h-2.3zM503.38 552.65h2.3v2.3h-2.3zM505.81 552.65h2.3v2.3h-2.3zM508.24 552.65h2.3v2.3h-2.3zM510.67 552.65h2.3v2.3h-2.3zM513.10 552.65h2.3v2.3h-2.3zM515.53 552.65h2.3v2.3h-2.3zM517.96 552.65h2.3v2.3h-2.3zM520.39 552.65h2.3v2.3h-2.3zM522.82 552.65h2.3v2.3h-2.3zM525.25 552.65h2.3v2.3h-2.3zM527.68 552.65h2.3v2.3h-2.3zM530.11 552.65h2.3v2.3h-2.3zM532.54 552.65h2.3v2.3h-2.3zM534.97 552.65h2.3v2.3h-2.3zM537.40 552.65h2.3v2.3h-2.3zM539.83 552.65h2.3v2.3h-2.3zM542.26 552.65h2.3v2.3h-2.3zM544.69 552.65h2.3v2.3h-2.3zM547.12 552.65h2.3v2.3h-2.3zM549.55 552.65h2.3v2.3h-2.3z" fill="#111"/>
<text x="644.0" y="557.8" font-size="9.0" text-anchor="start" stroke="#222" stroke-width="0.2" font-style="italic" textLength="22.63" lengthAdjust="spacingAndGlyphs">Ile muc</text>
<path d="M425.55 564.65h2.3v2.3h-2.3z" fill="#111"/>
<path d="M432.75 564.65h2.3v2.3h-2.3z" fill="#111"/>
<path d="M439.45 564.65h2.3v2.3h-2.3zM441.91 564.65h2.3v2.3h-2.3zM444.37 564.65h2.3v2.3h-2.3zM446.83 564.65h2.3v2.3h-2.3zM449.29 564.65h2.3v2.3h-2.3zM451.75 564.65h2.3v2.3h-2.3zM454.21 564.65h2.3v2.3h-2.3zM456.67 564.65h2.3v2.3h-2.3zM459.13 564.65h2.3v2.3h-2.3zM461.59 564.65h2.3v2.3h-2.3zM464.05 564.65h2.3v2.3h-2.3zM466.51 564.65h2.3v2.3h-2.3zM468.97 564.65h2.3v2.3h-2.3zM471.43 564.65h2.3v2.3h-2.3zM473.89 564.65h2.3v2.3h-2.3zM476.35 564.65h2.3v2.3h-2.3z" fill="#111"/>
<path d="M480.35 564.65h2.3v2.3h-2.3zM482.95 564.65h2.3v2.3h-2.3zM485.55 564.65h2.3v2.3h-2.3zM488.15 564.65h2.3v2.3h-2.3zM490.75 564.65h2.3v2.3h-2.3zM493.35 564.65h2.3v2.3h-2.3zM495.95 564.65h2.3v2.3h-2.3zM498.55 564.65h2.3v2.3h-2.3zM501.15 564.65h2.3v2.3h-2.3z" fill="#111"/>
<path d="M508.75 564.65h2.3v2.3h-2.3zM510.90 564.65h2.3v2.3h-2.3zM513.05 564.65h2.3v2.3h-2.3z" fill="#111"/>
<path d="M519.05 564.65h2.3v2.3h-2.3z" fill="#111"/>
<path d="M566.25 564.65h2.3v2.3h-2.3z" fill="#111"/>
<path d="M625.05 564.65h2.3v2.3h-2.3z" fill="#111"/>
<text x="644.0" y="570.2" font-size="9.0" text-anchor="start" stroke="#222" stroke-width="0.2" font-style="italic" textLength="23.81" lengthAdjust="spacingAndGlyphs">Kal ang</text>
<path d="M425.55 577.05h2.3v2.3h-2.3zM428.04 577.05h2.3v2.3h-2.3zM430.53 577.05h2.3v2.3h-2.3zM433.02 577.05h2.3v2.3h-2.3zM435.51 577.05h2.3v2.3h-2.3zM438.00 577.05h2.3v2.3h-2.3zM440.50 577.05h2.3v2.3h-2.3zM442.99 577.05h2.3v2.3h-2.3zM445.48 577.05h2.3v2.3h-2.3zM447.97 577.05h2.3v2.3h-2.3zM450.46 577.05h2.3v2.3h-2.3zM452.95 577.05h2.3v2.3h-2.3z" fill="#111"/>
<path d="M463.55 577.05h2.3v2.3h-2.3zM466.15 577.05h2.3v2.3h-2.3z" fill="#111"/>
<path d="M469.95 577.05h2.3v2.3h-2.3z" fill="#111"/>
<path d="M475.05 577.05h2.3v2.3h-2.3z" fill="#111"/>
<path d="M488.35 577.05h2.3v2.3h-2.3z" fill="#111"/>
<path d="M501.35 577.05h2.3v2.3h-2.3z" fill="#111"/>
<path d="M511.75 577.05h2.3v2.3h-2.3z" fill="#111"/>
<path d="M521.95 577.05h2.3v2.3h-2.3z" fill="#111"/>
<path d="M526.55 577.05h2.3v2.3h-2.3zM529.35 577.05h2.3v2.3h-2.3zM532.15 577.05h2.3v2.3h-2.3zM534.95 577.05h2.3v2.3h-2.3z" fill="#111"/>
<path d="M538.95 577.05h2.3v2.3h-2.3zM541.35 577.05h2.3v2.3h-2.3zM543.75 577.05h2.3v2.3h-2.3z" fill="#111"/>
<path d="M550.35 577.05h2.3v2.3h-2.3zM552.45 577.05h2.3v2.3h-2.3z" fill="#111"/>
<path d="M559.25 577.05h2.3v2.3h-2.3z" fill="#111"/>
<path d="M570.35 577.05h2.3v2.3h-2.3zM573.65 577.05h2.3v2.3h-2.3z" fill="#111"/>
<path d="M577.45 577.05h2.3v2.3h-2.3z" fill="#111"/>
<path d="M584.45 577.05h2.3v2.3h-2.3z" fill="#111"/>
<text x="644.0" y="582.1" font-size="9.0" text-anchor="start" stroke="#222" stroke-width="0.2" font-style="italic" textLength="32.38" lengthAdjust="spacingAndGlyphs">SPH MAG</text>
<path d="M425.55 589.15h2.3v2.3h-2.3zM428.15 589.15h2.3v2.3h-2.3zM430.75 589.15h2.3v2.3h-2.3z" fill="#111"/>
<path d="M435.15 589.15h2.3v2.3h-2.3zM437.49 589.15h2.3v2.3h-2.3zM439.83 589.15h2.3v2.3h-2.3zM442.17 589.15h2.3v2.3h-2.3zM444.51 589.15h2.3v2.3h-2.3zM446.85 589.15h2.3v2.3h-2.3z" fill="#111"/>
<path d="M450.25 589.15h2.3v2.3h-2.3zM452.65 589.15h2.3v2.3h-2.3zM455.05 589.15h2.3v2.3h-2.3zM457.45 589.15h2.3v2.3h-2.3zM459.85 589.15h2.3v2.3h-2.3zM462.25 589.15h2.3v2.3h-2.3zM464.65 589.15h2.3v2.3h-2.3zM467.05 589.15h2.3v2.3h-2.3zM469.45 589.15h2.3v2.3h-2.3zM471.85 589.15h2.3v2.3h-2.3zM474.25 589.15h2.3v2.3h-2.3zM476.65 589.15h2.3v2.3h-2.3zM479.05 589.15h2.3v2.3h-2.3zM481.45 589.15h2.3v2.3h-2.3zM483.85 589.15h2.3v2.3h-2.3zM486.25 589.15h2.3v2.3h-2.3zM488.65 589.15h2.3v2.3h-2.3zM491.05 589.15h2.3v2.3h-2.3zM493.45 589.15h2.3v2.3h-2.3z" fill="#111"/>
<path d="M520.05 589.15h2.3v2.3h-2.3z" fill="#111"/>
<text x="644.0" y="593.8" font-size="9.0" text-anchor="start" stroke="#222" stroke-width="0.2" font-style="italic" textLength="31.21" lengthAdjust="spacingAndGlyphs">SPH RUB</text>
<path d="M425.55 601.45h2.3v2.3h-2.3zM428.30 601.45h2.3v2.3h-2.3zM431.05 601.45h2.3v2.3h-2.3zM433.80 601.45h2.3v2.3h-2.3zM436.55 601.45h2.3v2.3h-2.3z" fill="#111"/>
<path d="M448.05 601.45h2.3v2.3h-2.3zM450.05 601.45h2.3v2.3h-2.3z" fill="#111"/>
<path d="M455.75 601.45h2.3v2.3h-2.3zM458.05 601.45h2.3v2.3h-2.3z" fill="#111"/>
<path d="M468.55 601.45h2.3v2.3h-2.3zM470.95 601.45h2.3v2.3h-2.3zM473.35 601.45h2.3v2.3h-2.3zM475.75 601.45h2.3v2.3h-2.3zM478.15 601.45h2.3v2.3h-2.3zM480.55 601.45h2.3v2.3h-2.3z" fill="#111"/>
<path d="M484.65 601.45h2.3v2.3h-2.3z" fill="#111"/>
<path d="M488.75 601.45h2.3v2.3h-2.3zM491.15 601.45h2.3v2.3h-2.3z" fill="#111"/>
<text x="644.0" y="606.0" font-size="9.0" text-anchor="start" stroke="#222" stroke-width="0.2" font-style="italic" textLength="23.8" lengthAdjust="spacingAndGlyphs">Cha cal</text>
<path d="M424.55 613.55h2.3v2.3h-2.3zM426.96 613.55h2.3v2.3h-2.3zM429.37 613.55h2.3v2.3h-2.3zM431.78 613.55h2.3v2.3h-2.3zM434.19 613.55h2.3v2.3h-2.3zM436.61 613.55h2.3v2.3h-2.3zM439.02 613.55h2.3v2.3h-2.3zM441.43 613.55h2.3v2.3h-2.3zM443.84 613.55h2.3v2.3h-2.3zM446.25 613.55h2.3v2.3h-2.3z" fill="#111"/>
<path d="M449.35 613.55h2.3v2.3h-2.3z" fill="#111"/>
<path d="M453.45 613.55h2.3v2.3h-2.3zM455.84 613.55h2.3v2.3h-2.3zM458.23 613.55h2.3v2.3h-2.3zM460.62 613.55h2.3v2.3h-2.3zM463.01 613.55h2.3v2.3h-2.3zM465.40 613.55h2.3v2.3h-2.3zM467.79 613.55h2.3v2.3h-2.3zM470.18 613.55h2.3v2.3h-2.3zM472.57 613.55h2.3v2.3h-2.3zM474.96 613.55h2.3v2.3h-2.3zM477.35 613.55h2.3v2.3h-2.3z" fill="#111"/>
<path d="M483.95 613.55h2.3v2.3h-2.3zM485.35 613.55h2.3v2.3h-2.3z" fill="#111"/>
<path d="M488.75 613.55h2.3v2.3h-2.3zM491.41 613.55h2.3v2.3h-2.3zM494.07 613.55h2.3v2.3h-2.3zM496.73 613.55h2.3v2.3h-2.3zM499.39 613.55h2.3v2.3h-2.3zM502.05 613.55h2.3v2.3h-2.3z" fill="#111"/>
<path d="M505.85 613.55h2.3v2.3h-2.3zM508.44 613.55h2.3v2.3h-2.3zM511.02 613.55h2.3v2.3h-2.3zM513.61 613.55h2.3v2.3h-2.3zM516.19 613.55h2.3v2.3h-2.3zM518.78 613.55h2.3v2.3h-2.3zM521.36 613.55h2.3v2.3h-2.3zM523.95 613.55h2.3v2.3h-2.3z" fill="#111"/>
<path d="M528.95 613.55h2.3v2.3h-2.3zM530.95 613.55h2.3v2.3h-2.3z" fill="#111"/>
<text x="644.0" y="619.1" font-size="9.0" text-anchor="start" stroke="#222" stroke-width="0.2" font-style="italic" textLength="26.15" lengthAdjust="spacingAndGlyphs">Rho can</text>
<path d="M424.55 625.85h2.3v2.3h-2.3zM425.95 625.85h2.3v2.3h-2.3z" fill="#111"/>
<path d="M433.25 625.85h2.3v2.3h-2.3zM435.75 625.85h2.3v2.3h-2.3zM438.25 625.85h2.3v2.3h-2.3zM440.75 625.85h2.3v2.3h-2.3zM443.25 625.85h2.3v2.3h-2.3zM445.75 625.85h2.3v2.3h-2.3zM448.25 625.85h2.3v2.3h-2.3zM450.75 625.85h2.3v2.3h-2.3zM453.25 625.85h2.3v2.3h-2.3z" fill="#111"/>
<path d="M460.85 625.85h2.3v2.3h-2.3zM462.95 625.85h2.3v2.3h-2.3z" fill="#111"/>
<path d="M471.15 625.85h2.3v2.3h-2.3zM473.67 625.85h2.3v2.3h-2.3zM476.19 625.85h2.3v2.3h-2.3zM478.71 625.85h2.3v2.3h-2.3zM481.23 625.85h2.3v2.3h-2.3zM483.75 625.85h2.3v2.3h-2.3z" fill="#111"/>
<path d="M489.75 625.85h2.3v2.3h-2.3zM491.60 625.85h2.3v2.3h-2.3zM493.45 625.85h2.3v2.3h-2.3z" fill="#111"/>
<path d="M499.15 625.85h2.3v2.3h-2.3z" fill="#111"/>
<path d="M507.15 625.85h2.3v2.3h-2.3z" fill="#111"/>
<path d="M515.85 625.85h2.3v2.3h-2.3z" fill="#111"/>
<path d="M526.35 625.85h2.3v2.3h-2.3zM529.75 625.85h2.3v2.3h-2.3z" fill="#111"/>
<text x="644.0" y="630.4" font-size="9.0" text-anchor="start" stroke="#222" stroke-width="0.2" font-style="italic" textLength="25.5" lengthAdjust="spacingAndGlyphs">Vac ang</text>
<path d="M424.55 637.95h2.3v2.3h-2.3zM426.62 637.95h2.3v2.3h-2.3zM428.68 637.95h2.3v2.3h-2.3zM430.75 637.95h2.3v2.3h-2.3z" fill="#111"/>
<path d="M440.65 637.95h2.3v2.3h-2.3z" fill="#111"/>
<path d="M447.15 637.95h2.3v2.3h-2.3z" fill="#111"/>
<path d="M451.85 637.95h2.3v2.3h-2.3zM453.25 637.95h2.3v2.3h-2.3z" fill="#111"/>
<path d="M460.85 637.95h2.3v2.3h-2.3zM462.95 637.95h2.3v2.3h-2.3z" fill="#111"/>
<path d="M468.65 637.95h2.3v2.3h-2.3z" fill="#111"/>
<path d="M480.75 637.95h2.3v2.3h-2.3zM482.85 637.95h2.3v2.3h-2.3z" fill="#111"/>
<text x="644.0" y="641.2" font-size="9.0" text-anchor="start" stroke="#222" stroke-width="0.2" font-style="italic" textLength="29.91" lengthAdjust="spacingAndGlyphs">POL STR</text>
<line x1="425.2" y1="647.5" x2="627.9" y2="647.5" stroke="#252525" stroke-width="1.3"/>
<line x1="425.2" y1="644.7" x2="425.2" y2="647.5" stroke="#333" stroke-width="1.0"/>
<text x="426.4" y="660.0" font-size="9.6" text-anchor="middle" stroke="#1c1c1c" stroke-width="0.3" fill="#1c1c1c" textLength="5.5" lengthAdjust="spacingAndGlyphs">0</text>
<line x1="465.8" y1="644.7" x2="465.8" y2="647.5" stroke="#333" stroke-width="1.0"/>
<text x="467.9" y="660.0" font-size="9.6" text-anchor="middle" stroke="#1c1c1c" stroke-width="0.3" fill="#1c1c1c" textLength="11.0" lengthAdjust="spacingAndGlyphs">20</text>
<line x1="506.2" y1="644.7" x2="506.2" y2="647.5" stroke="#333" stroke-width="1.0"/>
<text x="508.5" y="660.0" font-size="9.6" text-anchor="middle" stroke="#1c1c1c" stroke-width="0.3" fill="#1c1c1c" textLength="11.0" lengthAdjust="spacingAndGlyphs">40</text>
<line x1="546.8" y1="644.7" x2="546.8" y2="647.5" stroke="#333" stroke-width="1.0"/>
<text x="548.8" y="660.0" font-size="9.6" text-anchor="middle" stroke="#1c1c1c" stroke-width="0.3" fill="#1c1c1c" textLength="11.0" lengthAdjust="spacingAndGlyphs">60</text>
<line x1="587.3" y1="644.7" x2="587.3" y2="647.5" stroke="#333" stroke-width="1.0"/>
<text x="589.2" y="660.0" font-size="9.6" text-anchor="middle" stroke="#1c1c1c" stroke-width="0.3" fill="#1c1c1c" textLength="11.0" lengthAdjust="spacingAndGlyphs">80</text>
<line x1="627.9" y1="644.7" x2="627.9" y2="647.5" stroke="#333" stroke-width="1.0"/>
<text x="630.0" y="660.0" font-size="9.6" text-anchor="middle" stroke="#1c1c1c" stroke-width="0.3" fill="#1c1c1c" textLength="16.5" lengthAdjust="spacingAndGlyphs">100</text>
<rect x="581.0" y="675.7" width="6.2" height="2.4" fill="#111"/>
<rect x="605.4" y="675.7" width="13.9" height="2.4" fill="#111"/>
<text x="642.9" y="679.0" font-size="9.0" text-anchor="start" stroke="#222" stroke-width="0.2" font-style="italic" textLength="25.59" lengthAdjust="spacingAndGlyphs">Abi bal</text>
<rect x="573.9" y="690.1" width="20.3" height="2.4" fill="#111"/>
<rect x="599.6" y="690.1" width="5.2" height="2.4" fill="#111"/>
<rect x="618.9" y="690.1" width="2.3" height="2.4" fill="#111"/>
<rect x="623.3" y="690.1" width="8.9" height="2.4" fill="#111"/>
<text x="642.9" y="693.5" font-size="9.0" text-anchor="start" stroke="#222" stroke-width="0.2" font-style="italic" textLength="29.31" lengthAdjust="spacingAndGlyphs">Cor can</text>
<rect x="572.3" y="704.3" width="6.9" height="2.4" fill="#111"/>
<rect x="581.0" y="704.3" width="21.6" height="2.4" fill="#111"/>
<rect x="617.3" y="704.3" width="4.6" height="2.4" fill="#111"/>
<text x="642.9" y="708.0" font-size="9.0" text-anchor="start" stroke="#222" stroke-width="0.2" font-style="italic" textLength="28.85" lengthAdjust="spacingAndGlyphs">Bet pop</text>
<rect x="563.7" y="718.4" width="4.9" height="2.4" fill="#111"/>
<path d="M576.25 718.45h2.3v2.3h-2.3z" fill="#111"/>
<rect x="590.6" y="718.4" width="14.2" height="2.4" fill="#111"/>
<path d="M607.65 718.45h2.3v2.3h-2.3z" fill="#111"/>
<rect x="615.0" y="718.4" width="10.1" height="2.4" fill="#111"/>
<rect x="627.9" y="718.4" width="4.3" height="2.4" fill="#111"/>
<text x="642.9" y="721.4" font-size="9.0" text-anchor="start" stroke="#222" stroke-width="0.2" font-style="italic" textLength="28.85" lengthAdjust="spacingAndGlyphs">Pte aqu</text>
<path d="M528.65 732.95h2.3v2.3h-2.3z" fill="#111"/>
<rect x="537.0" y="732.9" width="5.2" height="2.4" fill="#111"/>
<path d="M547.35 732.95h2.3v2.3h-2.3z" fill="#111"/>
<rect x="557.9" y="732.9" width="37.3" height="2.4" fill="#111"/>
<rect x="606.7" y="732.9" width="2.5" height="2.4" fill="#111"/>
<rect x="610.8" y="732.9" width="10.1" height="2.4" fill="#111"/>
<text x="642.9" y="736.3" font-size="9.0" text-anchor="start" stroke="#222" stroke-width="0.2" font-style="italic" textLength="26.52" lengthAdjust="spacingAndGlyphs">Aln rug</text>
<rect x="526.4" y="747.3" width="4.6" height="2.4" fill="#111"/>
<path d="M536.05 747.35h2.3v2.3h-2.3z" fill="#111"/>
<rect x="548.9" y="747.3" width="9.4" height="2.4" fill="#111"/>
<rect x="568.2" y="747.3" width="7.7" height="2.4" fill="#111"/>
<rect x="590.6" y="747.3" width="12.6" height="2.4" fill="#111"/>
<rect x="611.2" y="747.3" width="4.2" height="2.4" fill="#111"/>
<rect x="618.9" y="747.3" width="12.6" height="2.4" fill="#111"/>
<text x="642.9" y="751.2" font-size="9.0" text-anchor="start" stroke="#222" stroke-width="0.2" font-style="italic" textLength="28.37" lengthAdjust="spacingAndGlyphs">Pic mar</text>
<path d="M486.95 761.95h2.3v2.3h-2.3z" fill="#111"/>
<rect x="509.7" y="761.9" width="21.3" height="2.4" fill="#111"/>
<rect x="533.8" y="761.9" width="13.2" height="2.4" fill="#111"/>
<path d="M556.95 761.95h2.3v2.3h-2.3z" fill="#111"/>
<path d="M565.95 761.95h2.3v2.3h-2.3z" fill="#111"/>
<path d="M602.55 761.95h2.3v2.3h-2.3z" fill="#111"/>
<path d="M623.75 761.95h2.3v2.3h-2.3z" fill="#111"/>
<text x="642.9" y="766.0" font-size="9.0" text-anchor="start" stroke="#222" stroke-width="0.2" font-style="italic" textLength="28.39" lengthAdjust="spacingAndGlyphs">Kal ang</text>
<path d="M475.95 775.85h2.3v2.3h-2.3zM477.80 775.85h2.3v2.3h-2.3zM479.65 775.85h2.3v2.3h-2.3z" fill="#111"/>
<path d="M489.75 775.85h2.3v2.3h-2.3zM491.15 775.85h2.3v2.3h-2.3z" fill="#111"/>
<path d="M504.85 775.85h2.3v2.3h-2.3zM507.25 775.85h2.3v2.3h-2.3zM509.65 775.85h2.3v2.3h-2.3zM512.05 775.85h2.3v2.3h-2.3zM514.45 775.85h2.3v2.3h-2.3zM516.85 775.85h2.3v2.3h-2.3zM519.25 775.85h2.3v2.3h-2.3zM521.65 775.85h2.3v2.3h-2.3zM524.05 775.85h2.3v2.3h-2.3zM526.45 775.85h2.3v2.3h-2.3zM528.85 775.85h2.3v2.3h-2.3zM531.25 775.85h2.3v2.3h-2.3zM533.65 775.85h2.3v2.3h-2.3zM536.05 775.85h2.3v2.3h-2.3zM538.45 775.85h2.3v2.3h-2.3zM540.85 775.85h2.3v2.3h-2.3zM543.25 775.85h2.3v2.3h-2.3zM545.65 775.85h2.3v2.3h-2.3zM548.05 775.85h2.3v2.3h-2.3zM550.45 775.85h2.3v2.3h-2.3zM552.85 775.85h2.3v2.3h-2.3zM555.25 775.85h2.3v2.3h-2.3zM557.65 775.85h2.3v2.3h-2.3z" fill="#111"/>
<path d="M565.95 775.85h2.3v2.3h-2.3z" fill="#111"/>
<text x="642.9" y="780.7" font-size="9.0" text-anchor="start" stroke="#222" stroke-width="0.2" font-style="italic" textLength="31.17" lengthAdjust="spacingAndGlyphs">Rho can</text>
<rect x="448.1" y="790.3" width="13.2" height="2.4" fill="#111"/>
<path d="M475.05 790.35h2.3v2.3h-2.3z" fill="#111"/>
<path d="M488.15 790.35h2.3v2.3h-2.3z" fill="#111"/>
<path d="M493.35 790.35h2.3v2.3h-2.3z" fill="#111"/>
<path d="M497.05 790.35h2.3v2.3h-2.3z" fill="#111"/>
<rect x="502.0" y="790.3" width="28.4" height="2.4" fill="#111"/>
<rect x="532.3" y="790.3" width="16.1" height="2.4" fill="#111"/>
<path d="M554.75 790.35h2.3v2.3h-2.3z" fill="#111"/>
<path d="M560.15 790.35h2.3v2.3h-2.3z" fill="#111"/>
<text x="642.9" y="794.1" font-size="9.0" text-anchor="start" stroke="#222" stroke-width="0.2" font-style="italic" textLength="34.26" lengthAdjust="spacingAndGlyphs">SPH FAL</text>
<path d="M443.85 804.45h2.3v2.3h-2.3zM446.15 804.45h2.3v2.3h-2.3zM448.45 804.45h2.3v2.3h-2.3zM450.75 804.45h2.3v2.3h-2.3z" fill="#111"/>
<path d="M458.95 804.45h2.3v2.3h-2.3zM461.34 804.45h2.3v2.3h-2.3zM463.74 804.45h2.3v2.3h-2.3zM466.13 804.45h2.3v2.3h-2.3zM468.53 804.45h2.3v2.3h-2.3zM470.92 804.45h2.3v2.3h-2.3zM473.32 804.45h2.3v2.3h-2.3zM475.71 804.45h2.3v2.3h-2.3zM478.11 804.45h2.3v2.3h-2.3zM480.50 804.45h2.3v2.3h-2.3zM482.89 804.45h2.3v2.3h-2.3zM485.29 804.45h2.3v2.3h-2.3zM487.68 804.45h2.3v2.3h-2.3zM490.08 804.45h2.3v2.3h-2.3zM492.47 804.45h2.3v2.3h-2.3zM494.87 804.45h2.3v2.3h-2.3zM497.26 804.45h2.3v2.3h-2.3zM499.66 804.45h2.3v2.3h-2.3zM502.05 804.45h2.3v2.3h-2.3z" fill="#111"/>
<text x="642.9" y="807.8" font-size="9.0" text-anchor="start" stroke="#222" stroke-width="0.2" font-style="italic" textLength="37.36" lengthAdjust="spacingAndGlyphs">SPH ANG</text>
<rect x="435.2" y="818.8" width="15.5" height="2.4" fill="#111"/>
<rect x="475.0" y="818.8" width="14.2" height="2.4" fill="#111"/>
<rect x="491.1" y="818.8" width="4.6" height="2.4" fill="#111"/>
<rect x="498.5" y="818.8" width="22.9" height="2.4" fill="#111"/>
<path d="M522.25 818.85h2.3v2.3h-2.3z" fill="#111"/>
<rect x="527.4" y="818.8" width="11.0" height="2.4" fill="#111"/>
<text x="642.9" y="822.0" font-size="9.0" text-anchor="start" stroke="#222" stroke-width="0.2" font-style="italic" textLength="26.52" lengthAdjust="spacingAndGlyphs">Eri ang</text>
<path d="M435.15 833.35h2.3v2.3h-2.3zM437.63 833.35h2.3v2.3h-2.3zM440.12 833.35h2.3v2.3h-2.3zM442.60 833.35h2.3v2.3h-2.3zM445.08 833.35h2.3v2.3h-2.3zM447.57 833.35h2.3v2.3h-2.3zM450.05 833.35h2.3v2.3h-2.3z" fill="#111"/>
<path d="M468.55 833.35h2.3v2.3h-2.3zM471.06 833.35h2.3v2.3h-2.3zM473.57 833.35h2.3v2.3h-2.3zM476.08 833.35h2.3v2.3h-2.3zM478.59 833.35h2.3v2.3h-2.3zM481.11 833.35h2.3v2.3h-2.3zM483.62 833.35h2.3v2.3h-2.3zM486.13 833.35h2.3v2.3h-2.3zM488.64 833.35h2.3v2.3h-2.3zM491.15 833.35h2.3v2.3h-2.3z" fill="#111"/>
<path d="M496.15 833.35h2.3v2.3h-2.3zM498.80 833.35h2.3v2.3h-2.3zM501.45 833.35h2.3v2.3h-2.3z" fill="#111"/>
<path d="M516.75 833.35h2.3v2.3h-2.3z" fill="#111"/>
<path d="M528.65 833.35h2.3v2.3h-2.3z" fill="#111"/>
<text x="642.9" y="836.3" font-size="9.0" text-anchor="start" stroke="#222" stroke-width="0.2" font-style="italic" textLength="38.6" lengthAdjust="spacingAndGlyphs">SPH MAG</text>
<path d="M435.15 847.45h2.3v2.3h-2.3zM437.54 847.45h2.3v2.3h-2.3zM439.92 847.45h2.3v2.3h-2.3zM442.31 847.45h2.3v2.3h-2.3zM444.70 847.45h2.3v2.3h-2.3zM447.08 847.45h2.3v2.3h-2.3zM449.47 847.45h2.3v2.3h-2.3zM451.86 847.45h2.3v2.3h-2.3zM454.24 847.45h2.3v2.3h-2.3zM456.63 847.45h2.3v2.3h-2.3zM459.02 847.45h2.3v2.3h-2.3zM461.40 847.45h2.3v2.3h-2.3zM463.79 847.45h2.3v2.3h-2.3zM466.18 847.45h2.3v2.3h-2.3zM468.56 847.45h2.3v2.3h-2.3zM470.95 847.45h2.3v2.3h-2.3z" fill="#111"/>
<path d="M474.35 847.45h2.3v2.3h-2.3zM476.62 847.45h2.3v2.3h-2.3zM478.88 847.45h2.3v2.3h-2.3zM481.15 847.45h2.3v2.3h-2.3zM483.42 847.45h2.3v2.3h-2.3zM485.68 847.45h2.3v2.3h-2.3zM487.95 847.45h2.3v2.3h-2.3z" fill="#111"/>
<path d="M494.25 847.45h2.3v2.3h-2.3zM496.25 847.45h2.3v2.3h-2.3zM498.25 847.45h2.3v2.3h-2.3z" fill="#111"/>
<path d="M503.95 847.45h2.3v2.3h-2.3z" fill="#111"/>
<path d="M524.15 847.45h2.3v2.3h-2.3zM526.45 847.45h2.3v2.3h-2.3z" fill="#111"/>
<text x="642.9" y="851.3" font-size="9.0" text-anchor="start" stroke="#222" stroke-width="0.2" font-style="italic" textLength="22.78" lengthAdjust="spacingAndGlyphs">Mai tri</text>
<rect x="434.3" y="861.9" width="21.9" height="2.4" fill="#111"/>
<path d="M456.75 861.95h2.3v2.3h-2.3z" fill="#111"/>
<rect x="461.5" y="861.9" width="6.9" height="2.4" fill="#111"/>
<path d="M473.45 861.95h2.3v2.3h-2.3z" fill="#111"/>
<rect x="477.6" y="861.9" width="34.1" height="2.4" fill="#111"/>
<path d="M520.05 861.95h2.3v2.3h-2.3z" fill="#111"/>
<text x="642.9" y="864.6" font-size="9.0" text-anchor="start" stroke="#222" stroke-width="0.2" font-style="italic" textLength="28.38" lengthAdjust="spacingAndGlyphs">Cha cal</text>
<line x1="435.2" y1="876.6" x2="632.6" y2="876.6" stroke="#252525" stroke-width="1.3"/>
<line x1="435.2" y1="873.8" x2="435.2" y2="876.6" stroke="#333" stroke-width="1.0"/>
<text x="436.6" y="888.5" font-size="9.6" text-anchor="middle" stroke="#1c1c1c" stroke-width="0.3" fill="#1c1c1c" textLength="5.6" lengthAdjust="spacingAndGlyphs">0</text>
<line x1="484.9" y1="873.8" x2="484.9" y2="876.6" stroke="#333" stroke-width="1.0"/>
<text x="487.0" y="888.5" font-size="9.6" text-anchor="middle" stroke="#1c1c1c" stroke-width="0.3" fill="#1c1c1c" textLength="11.2" lengthAdjust="spacingAndGlyphs">20</text>
<line x1="534.3" y1="873.8" x2="534.3" y2="876.6" stroke="#333" stroke-width="1.0"/>
<text x="536.0" y="888.5" font-size="9.6" text-anchor="middle" stroke="#1c1c1c" stroke-width="0.3" fill="#1c1c1c" textLength="11.2" lengthAdjust="spacingAndGlyphs">40</text>
<line x1="583.7" y1="873.8" x2="583.7" y2="876.6" stroke="#333" stroke-width="1.0"/>
<text x="584.8" y="888.5" font-size="9.6" text-anchor="middle" stroke="#1c1c1c" stroke-width="0.3" fill="#1c1c1c" textLength="11.2" lengthAdjust="spacingAndGlyphs">60</text>
<line x1="632.6" y1="873.8" x2="632.6" y2="876.6" stroke="#333" stroke-width="1.0"/>
<text x="635.0" y="888.5" font-size="9.6" text-anchor="middle" stroke="#1c1c1c" stroke-width="0.3" fill="#1c1c1c" textLength="11.2" lengthAdjust="spacingAndGlyphs">80</text>
</svg></body></html>
